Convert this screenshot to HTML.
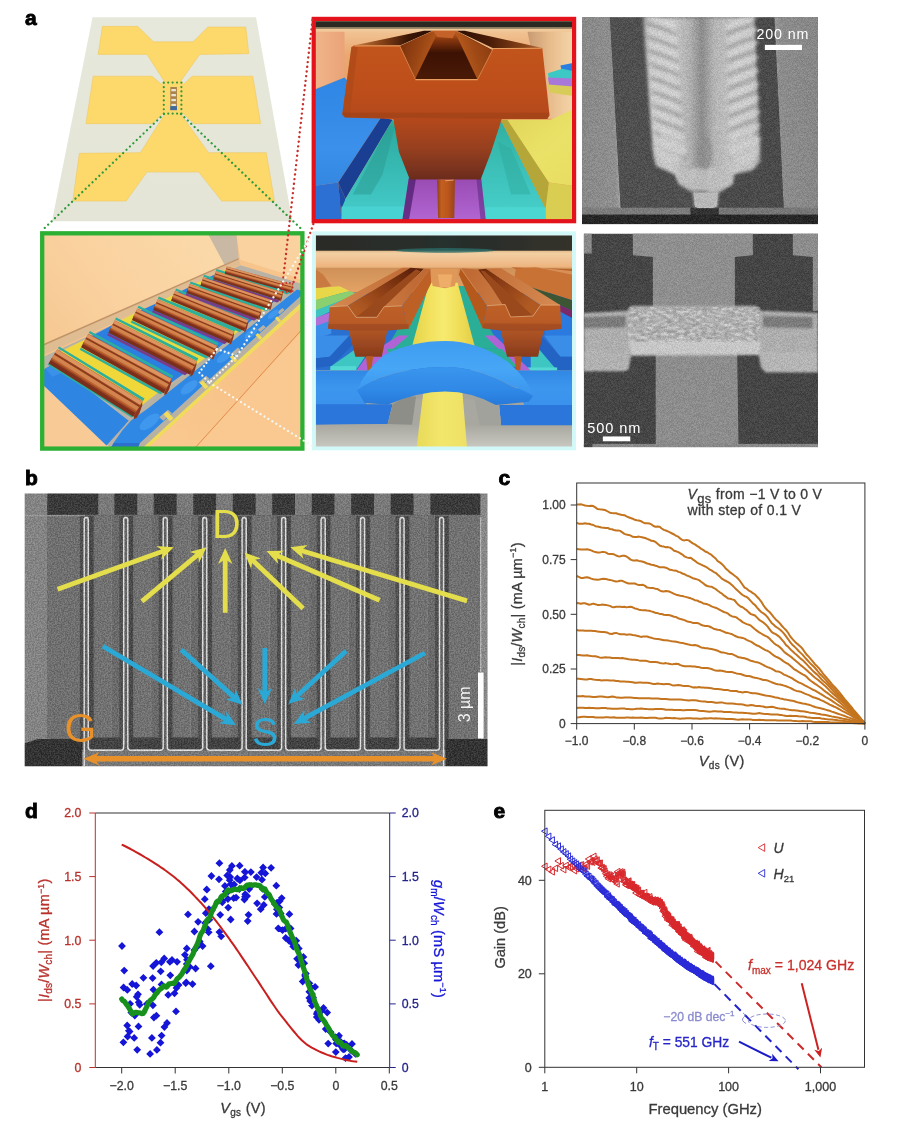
<!DOCTYPE html>
<html lang="en"><head><meta charset="utf-8"><title>Figure</title>
<style>
html,body{margin:0;padding:0;background:#fff;}
body{width:910px;height:1122px;position:relative;overflow:hidden;font-family:"Liberation Sans", sans-serif;}
text{font-family:"Liberation Sans", sans-serif;}
</style></head>
<body>
<svg width="910" height="1122" viewBox="0 0 910 1122" style="display:block;position:absolute;left:0;top:0">
<g id="panel-a">
<g id="chip" transform="translate(20,0) scale(0.32967)">
<defs><linearGradient id="chipg" x1="0" y1="0" x2="0" y2="1"><stop offset="0" stop-color="#e6e8db"/><stop offset="1" stop-color="#e4e5d6"/></linearGradient></defs>
<polygon points="220,52 716,52 826,671 97,671" fill="url(#chipg)" />
<polygon points="250,80 357,80 405,127 525,127 570,82 685,82 694,163 545,165 485,250 440,250 385,165 237,165" fill="#fdd86a" stroke="#eec458" stroke-width="1.5" stroke-linejoin="round"/>
<polygon points="222,231 400,231 437,262 437,340 402,375 200,375" fill="#fdd86a" stroke="#eec458" stroke-width="1.5" stroke-linejoin="round"/>
<polygon points="522,231 706,231 730,375 528,375 490,340 490,262" fill="#fdd86a" stroke="#eec458" stroke-width="1.5" stroke-linejoin="round"/>
<polygon points="440,345 487,345 572,463 747,463 772,610 612,610 542,522 385,522 322,610 160,610 180,465 365,463" fill="#fdd86a" stroke="#eec458" stroke-width="1.5" stroke-linejoin="round"/>
<rect x="432" y="248" width="62" height="100" fill="#fdd86a"/>
<rect x="456" y="264" width="20" height="70" fill="#a8824a"/>
<rect x="459" y="270" width="14" height="7" fill="#e8e4d4"/>
<rect x="459" y="285" width="14" height="7" fill="#e8e4d4"/>
<rect x="459" y="300" width="14" height="7" fill="#e8e4d4"/>
<rect x="459" y="315" width="14" height="7" fill="#e8e4d4"/>
<rect x="456" y="322" width="20" height="12" fill="#3f6a9c"/>
</g>
<g id="a-red" transform="translate(300,10) scale(0.32967)">
<defs>
<clipPath id="rclip"><rect x="46" y="34" width="783" height="606"/></clipPath>
<linearGradient id="r_wall" gradientUnits="userSpaceOnUse" x1="0" y1="55" x2="0" y2="330"><stop offset="0" stop-color="#f3cfa0"/><stop offset="0.06" stop-color="#f0c090"/><stop offset="0.3" stop-color="#eaa870"/><stop offset="1" stop-color="#e89a5c"/></linearGradient>
<linearGradient id="r_wallL" gradientUnits="userSpaceOnUse" x1="50" y1="0" x2="215" y2="0"><stop offset="0" stop-color="#f0b48a"/><stop offset="0.7" stop-color="#e89c70"/><stop offset="1" stop-color="#d07c50"/></linearGradient>
<linearGradient id="r_wallR" gradientUnits="userSpaceOnUse" x1="690" y1="0" x2="826" y2="0"><stop offset="0" stop-color="#c89a72"/><stop offset="0.5" stop-color="#e8bc8c"/><stop offset="1" stop-color="#f4d4a8"/></linearGradient>
<linearGradient id="r_cu" gradientUnits="userSpaceOnUse" x1="0" y1="105" x2="0" y2="520"><stop offset="0" stop-color="#c2541c"/><stop offset="0.35" stop-color="#bd4e1b"/><stop offset="0.55" stop-color="#b3481c"/><stop offset="0.75" stop-color="#98401f"/><stop offset="0.92" stop-color="#78321e"/><stop offset="1" stop-color="#682a1a"/></linearGradient>
<linearGradient id="r_cuL" gradientUnits="userSpaceOnUse" x1="125" y1="0" x2="300" y2="0"><stop offset="0" stop-color="#b85a1e"/><stop offset="0.3" stop-color="#c9681f"/><stop offset="1" stop-color="#c6641f"/></linearGradient>
<linearGradient id="r_topL" gradientUnits="userSpaceOnUse" x1="160" y1="0" x2="400" y2="0"><stop offset="0" stop-color="#c8804a"/><stop offset="0.35" stop-color="#8a4418"/><stop offset="0.7" stop-color="#3a1606"/><stop offset="1" stop-color="#2a0e04"/></linearGradient>
<linearGradient id="r_topR" gradientUnits="userSpaceOnUse" x1="470" y1="0" x2="735" y2="0"><stop offset="0" stop-color="#2a0e04"/><stop offset="0.4" stop-color="#4a1c08"/><stop offset="0.8" stop-color="#8a4418"/><stop offset="1" stop-color="#b86a38"/></linearGradient>
<linearGradient id="r_inL" gradientUnits="userSpaceOnUse" x1="300" y1="110" x2="420" y2="150"><stop offset="0" stop-color="#7a300c"/><stop offset="0.5" stop-color="#9a4614"/><stop offset="1" stop-color="#c06020"/></linearGradient>
<linearGradient id="r_inR" gradientUnits="userSpaceOnUse" x1="590" y1="110" x2="470" y2="150"><stop offset="0" stop-color="#8a3a10"/><stop offset="0.5" stop-color="#a04a16"/><stop offset="1" stop-color="#c46420"/></linearGradient>
<linearGradient id="r_inC" gradientUnits="userSpaceOnUse" x1="0" y1="62" x2="0" y2="212"><stop offset="0" stop-color="#c86a28"/><stop offset="0.18" stop-color="#8a380e"/><stop offset="0.45" stop-color="#3c1204"/><stop offset="1" stop-color="#4a1a06"/></linearGradient>
<linearGradient id="r_foot" gradientUnits="userSpaceOnUse" x1="415" y1="0" x2="471" y2="0"><stop offset="0" stop-color="#8a3c14"/><stop offset="0.25" stop-color="#c2601f"/><stop offset="0.6" stop-color="#bc561c"/><stop offset="1" stop-color="#96421a"/></linearGradient>
<linearGradient id="r_blue" gradientUnits="userSpaceOnUse" x1="0" y1="210" x2="0" y2="630"><stop offset="0" stop-color="#2f86e4"/><stop offset="0.5" stop-color="#3a90ea"/><stop offset="0.75" stop-color="#3488e2"/><stop offset="1" stop-color="#2a6cd0"/></linearGradient>
<linearGradient id="r_cyL" gradientUnits="userSpaceOnUse" x1="0" y1="340" x2="0" y2="630"><stop offset="0" stop-color="#2aa89c"/><stop offset="0.5" stop-color="#38bab4"/><stop offset="1" stop-color="#46cccc"/></linearGradient>
<linearGradient id="r_cyR" gradientUnits="userSpaceOnUse" x1="0" y1="340" x2="0" y2="630"><stop offset="0" stop-color="#30b0a0"/><stop offset="0.5" stop-color="#3cc0b8"/><stop offset="1" stop-color="#48d0cc"/></linearGradient>
<linearGradient id="r_yel" gradientUnits="userSpaceOnUse" x1="630" y1="330" x2="826" y2="560"><stop offset="0" stop-color="#e2d65c"/><stop offset="0.5" stop-color="#eae268"/><stop offset="1" stop-color="#e6dc60"/></linearGradient>
<linearGradient id="r_pur" gradientUnits="userSpaceOnUse" x1="0" y1="515" x2="0" y2="630"><stop offset="0" stop-color="#9a4cb4"/><stop offset="1" stop-color="#b064d0"/></linearGradient>
<filter id="rblur"><feGaussianBlur stdDeviation="1.2"/></filter>
</defs>
<g clip-path="url(#rclip)">
<rect x="44" y="32" width="787" height="610" fill="url(#r_wall)"/>
<rect x="44" y="32" width="787" height="21" fill="#2b2a22"/>
<rect x="44" y="52" width="787" height="5" fill="#8a7a5a"/>
<polygon points="44,66 135,66 135,205 44,240" fill="url(#r_wallL)" />
<polygon points="690,66 831,66 831,330 745,330" fill="url(#r_wallR)" />
<polygon points="790,168 831,160 831,195 795,190" fill="#2a7ee0" />
<polygon points="752,192 795,178 831,186 831,212 755,210" fill="#3cc8c4" />
<polygon points="752,205 831,208 831,236 756,230" fill="#a878d8" />
<polygon points="752,226 831,232 831,262 757,250" fill="#d8cc58" />
<polygon points="44,242 135,205 246,326 116,523 44,533" fill="url(#r_blue)" />
<polygon points="44,533 116,523 126,640 44,640" fill="#2b70d2" />
<polygon points="246,326 281,333 138,573 116,523" fill="#1a3f92" />
<polygon points="116,523 138,573 126,640" fill="#1c4aa4" />
<polygon points="281,333 296,368 336,503 331,583 312,640 126,640 126,603 138,573" fill="url(#r_cyL)" />
<polygon points="270,352 288,352 250,500 215,560 160,560" fill="#2c9c94" opacity="0.55"/>
<polygon points="126,596 330,596 312,640 126,640" fill="#48d2d2" />
<polygon points="330,510 552,510 566,640 310,640" fill="url(#r_pur)" />
<polygon points="330,510 352,510 330,640 310,640" fill="#4a1a6a" opacity="0.7"/>
<polygon points="535,510 552,510 566,640 548,640" fill="#5a2a80" opacity="0.55"/>
<polygon points="594,340 612,340 744,598 744,640 564,640 549,503" fill="url(#r_cyR)" />
<polygon points="600,400 640,420 700,560 640,560" fill="#2ea89c" opacity="0.45"/>
<polygon points="562,598 744,598 744,640 565,640" fill="#4cd6d2" />
<polygon points="609,333 630,333 755,523 745,603" fill="#b4a638" />
<polygon points="629,333 760,333 831,300 831,534 755,523" fill="url(#r_yel)" />
<polygon points="755,523 831,534 831,640 746,640 745,603" fill="#d9cd52" />
<polygon points="163,108 303,108 403,63 376,63" fill="url(#r_topL)" />
<polygon points="474,63 500,63 735,115 586,116" fill="url(#r_topR)" />
<polygon points="403,63 474,63 584,122 539,212 350,212 303,110" fill="url(#r_inC)" />
<polygon points="303,110 403,65 416,72 350,208" fill="url(#r_inL)" />
<polygon points="469,65 584,122 539,212" fill="url(#r_inR)" />
<polygon points="403,63 474,63 463,86 417,82" fill="#c4622a" />
<polygon points="156,112 165,107 303,108 350,210 539,210 586,116 735,115 757,320 750,331 612,331 580,430 548,514 333,514 300,430 283,331 136,326 128,318" fill="url(#r_cu)" />
<polygon points="156,112 175,112 150,322 128,318" fill="#a84818" opacity="0.6"/>
<polygon points="128,312 757,312 750,331 136,326" fill="#8a3c14" opacity="0.35"/>
<path d="M165 109 L303 109" stroke="#f2b070" stroke-width="3" fill="none" opacity="0.8"/>
<path d="M586 117 L733 116" stroke="#f2b070" stroke-width="3" fill="none" opacity="0.8"/>
<path d="M350 211 L539 211" stroke="#f0a868" stroke-width="3.5" fill="none" opacity="0.9"/>
<path d="M303 110 L350 210" stroke="#e89a58" stroke-width="2.5" fill="none" opacity="0.8"/>
<path d="M586 117 L539 210" stroke="#e89a58" stroke-width="2.5" fill="none" opacity="0.8"/>
<polygon points="416,514 470,514 468,631 419,631" fill="url(#r_foot)" />
<path d="M440 518 L466 516" stroke="#f0b070" stroke-width="3" opacity="0.8"/>
</g>
</g>
<g id="a-green" transform="translate(30,220) scale(0.318674)">
<defs>
<clipPath id="gclip"><rect x="44" y="46" width="808" height="668"/></clipPath>
<linearGradient id="g_plat" gradientUnits="userSpaceOnUse" x1="45" y1="390" x2="500" y2="47"><stop offset="0" stop-color="#f6c892"/><stop offset="0.5" stop-color="#fad2a0"/><stop offset="1" stop-color="#fbd8a8"/></linearGradient>
<linearGradient id="g_out" gradientUnits="userSpaceOnUse" x1="500" y1="712" x2="850" y2="330"><stop offset="0" stop-color="#f9c88e"/><stop offset="1" stop-color="#f6bd84"/></linearGradient>
<filter id="gblur"><feGaussianBlur stdDeviation="1.6"/></filter>
</defs>
<g clip-path="url(#gclip)"><g filter="url(#gblur)">
<rect x="40" y="40" width="820" height="680" fill="#f7c48c"/>
<polygon points="44,500 250,714 44,714" fill="#f8cb96" />
<polygon points="44,46 645,46 655,122 44,392" fill="url(#g_plat)" />
<polygon points="560,46 648,46 655,120 610,140" fill="#c8b8a4" />
<polygon points="648,46 852,46 852,190 820,175 660,125" fill="#fad2a0" />
<polygon points="44,392 655,122 660,140 44,424" fill="#e0bc92" />
<polygon points="44,388 655,119 655,124 44,394" fill="#c09468" />
<polygon points="44,428 660,142 852,200 852,260 370,712 250,712 44,520" fill="#b9b2a6" />
<polygon points="48,466 78,450 310,630 240,708 44,520 44,470" fill="#2f86e2" />
<polygon points="48,466 78,450 110,475 70,492" fill="#3a90ea" />
<polygon points="75,423 342,588 435,516 174,374" fill="#f0d83a" />
<polygon points="91.3,396.6 359.3,559.9 354.6,567.6 87.6,402.6" fill="#2fae9c" />
<polygon points="159.2,401.2 420.2,543.2 415.9,551.1 155.8,407.4" fill="#2fae9c" />
<polygon points="174,374 435,516 515,460 258,330" fill="#2c7fe0" />
<polygon points="187.9,348.5 449.8,488.8 445.5,496.7 184.5,354.7" fill="#2fae9c" />
<polygon points="245.3,355.2 502.3,485.2 498.2,493.2 242.1,361.4" fill="#7a3a8a" />
<polygon points="258,330 515,460 580,410 330,292" fill="#e8dc40" />
<polygon points="270.2,305.9 528.1,434.1 524,442.2 267,312.2" fill="#2fae9c" />
<polygon points="319.2,315 569.2,433 565.3,441.1 316.2,321.3" fill="#2fae9c" />
<polygon points="330,292 580,410 635,365 395,262" fill="#2c7fe0" />
<polygon points="340.7,269.4 591.5,385.6 587.7,393.7 337.7,275.7" fill="#2fae9c" />
<polygon points="385.8,283.4 625.8,386.4 622.3,394.7 383.1,289.8" fill="#7a3a8a" />
<polygon points="395,262 635,365 680,328 450,235" fill="#e8dc40" />
<polygon points="404.3,240.4 645.1,341.6 641.5,349.8 401.5,246.8" fill="#2fae9c" />
<polygon points="442.1,254.7 672.1,347.7 668.7,356 439.4,261.1" fill="#2fae9c" />
<polygon points="450,235 680,328 722,293 497,212" fill="#2c7fe0" />
<polygon points="458.2,214.6 689,305.8 685.6,314.1 455.6,221.1" fill="#2fae9c" />
<polygon points="490.5,230 715.5,311 712.5,319.4 488.2,236.6" fill="#7a3a8a" />
<polygon points="497,212 722,293 757,263 540,190" fill="#e8dc40" />
<polygon points="503.9,192.7 729.6,271.8 726.6,280.3 501.6,199.3" fill="#2fae9c" />
<polygon points="534.4,206.8 751.4,279.8 748.5,288.3 532.1,213.4" fill="#2fae9c" />
<polygon points="540,190 757,263 790,237 580,171" fill="#2c7fe0" />
<polygon points="546.2,171.5 763.9,242.6 761,251.2 544,178.2" fill="#2fae9c" />
<polygon points="575.1,186.6 785.1,252.6 782.4,261.1 573,193.2" fill="#7a3a8a" />
<polygon points="580,171 790,237 822,213 615,155" fill="#e8dc40" />
<polygon points="585.5,153.4 796.1,217.4 793.4,226 583.4,160" fill="#2fae9c" />
<polygon points="611,169.3 818,227.3 815.6,236 609.1,176.1" fill="#2fae9c" />
<polygon points="60,447.2 326.5,613.1 321.2,621.6 55.8,454" fill="#2fae9c" />
<polygon points="300,640 330,610 836,212 852,216 852,250 362,712 300,712" fill="#b7b1a4" />
<polygon points="318,628 372,590 838,218 852,222 852,236 345,700 262,700 290,660" fill="#2f88e4" />
<polygon points="262,700 345,700 340,712 255,712" fill="#2a70cc" />
<polygon points="405.4,618.9 432.8,595.2 445.5,606.1 418.2,629.8" fill="#b7b1a4" />
<polygon points="529,509.2 552.4,488.9 563.4,498.3 540,518.6" fill="#b7b1a4" />
<polygon points="632.1,417.8 652.2,400.4 661.5,408.4 641.4,425.8" fill="#b7b1a4" />
<polygon points="714.5,344.7 731.9,329.5 740.1,336.5 722.6,351.7" fill="#b7b1a4" />
<polygon points="776.3,289.8 791.8,276.4 799,282.6 783.5,296" fill="#b7b1a4" />
<ellipse cx="374.9" cy="633.4" rx="37" ry="16.5" transform="rotate(-38 374.9 633.4)" fill="#3f98ee"/>
<ellipse cx="499.4" cy="525.1" rx="31.7" ry="14.2" transform="rotate(-38 499.4 525.1)" fill="#3f98ee"/>
<ellipse cx="609" cy="429.8" rx="27.1" ry="12.1" transform="rotate(-38 609 429.8)" fill="#3f98ee"/>
<ellipse cx="693.6" cy="356.2" rx="23.6" ry="10.5" transform="rotate(-38 693.6 356.2)" fill="#3f98ee"/>
<ellipse cx="763.3" cy="295.6" rx="20.7" ry="9.2" transform="rotate(-38 763.3 295.6)" fill="#3f98ee"/>
<polygon points="355,714 372,714 852,275 852,258" fill="#f0dc5a" />
<polygon points="418.8,609.2 430,599.8 450.7,622.3 439.4,631.7" fill="#f0dc5a" />
<polygon points="532.3,511.5 542.1,503.3 560.2,523 550.3,531.2" fill="#f0dc5a" />
<polygon points="626.9,430.1 635.5,422.9 651.4,440.2 642.7,447.4" fill="#f0dc5a" />
<polygon points="707.3,360.9 714.9,354.5 728.9,369.8 721.3,376.1" fill="#f0dc5a" />
<polygon points="768.8,308 775.6,302.3 788.2,316 781.3,321.7" fill="#f0dc5a" />
<polygon points="372,714 852,275 852,714" fill="url(#g_out)" />
<path d="M519 714 L852 345" stroke="#e08a48" stroke-width="3" fill="none"/>
<polygon points="523,714 852,349 852,714" fill="#f9c991" />
<polygon points="70.2,430.8 336.8,596.3 324,617.2 58.2,450.1" fill="#7a2e1a" />
<polygon points="68.3,433.9 334.8,599.7 330.7,606.3 64.5,440.1" fill="#9a4424" />
<polygon points="86,405.2 353.8,568.8 333.2,602.2 66.9,436.2" fill="#bc622f" />
<polygon points="85.3,406.3 353.1,570.1 346.4,580.9 79.1,416.4" fill="#dc9460" />
<polygon points="78.4,417.6 345.6,582.2 342.5,587.2 75.5,422.2" fill="#8a3a1c" />
<polygon points="75.2,422.6 342.3,587.6 336.1,597.6 69.5,431.9" fill="#d28450" />
<polygon points="352.3,571.3 326,613.8 326,625.2 335.6,619 343.3,606.5 352.3,581.6" fill="#8a341c" />
<polygon points="170,381.4 430.7,523.9 419.9,543.7 160,399.7" fill="#7a2e1a" />
<polygon points="168.4,384.3 429,527.1 425.5,533.4 165.2,390.2" fill="#9a4424" />
<polygon points="183.2,357.1 444.9,497.8 427.7,529.4 167.2,386.5" fill="#bc622f" />
<polygon points="182.6,358.2 444.2,499 438.7,509.3 177.4,367.8" fill="#dc9460" />
<polygon points="176.8,368.9 438,510.5 435.4,515.2 174.4,373.3" fill="#8a3a1c" />
<polygon points="174.2,373.6 435.2,515.6 430.1,525.1 169.4,382.5" fill="#d28450" />
<polygon points="443.6,500.2 421.7,540.5 421.7,550.9 429.6,544.8 436.1,532.9 443.6,509.6" fill="#8a341c" />
<polygon points="254.6,336.8 511.3,467.3 502,485.6 246,353.8" fill="#7a2e1a" />
<polygon points="253.2,339.5 509.8,470.2 506.9,476.1 250.4,345" fill="#9a4424" />
<polygon points="265.9,314.3 523.5,443.2 508.7,472.4 252.1,341.6" fill="#bc622f" />
<polygon points="265.4,315.4 523,444.3 518.1,453.8 260.9,324.2" fill="#dc9460" />
<polygon points="260.4,325.2 517.6,454.9 515.4,459.3 258.3,329.3" fill="#8a3a1c" />
<polygon points="258.2,329.7 515.2,459.6 510.7,468.4 254,337.8" fill="#d28450" />
<polygon points="522.4,445.4 503.5,482.7 503.5,492.2 510.4,486.4 515.9,475.4 522.4,454" fill="#8a341c" />
<polygon points="327.1,298.2 576.8,416.7 568.9,433.4 319.7,313.8" fill="#7a2e1a" />
<polygon points="325.9,300.7 575.6,419.4 573.1,424.7 323.5,305.7" fill="#9a4424" />
<polygon points="336.8,277.7 587.3,394.6 574.6,421.4 325,302.6" fill="#bc622f" />
<polygon points="336.3,278.6 586.8,395.6 582.7,404.3 332.5,286.7" fill="#dc9460" />
<polygon points="332.1,287.6 582.2,405.3 580.3,409.3 330.3,291.4" fill="#8a3a1c" />
<polygon points="330.1,291.7 580.2,409.7 576.4,417.7 326.6,299.2" fill="#d28450" />
<polygon points="586.3,396.6 570.2,430.7 570.2,439.3 576.1,433.9 580.8,423.9 586.3,404.4" fill="#8a341c" />
<polygon points="392.5,267.8 632.3,371.2 625.6,386.9 386.3,282.3" fill="#7a2e1a" />
<polygon points="391.5,270.1 631.2,373.7 629.1,378.7 389.5,274.8" fill="#9a4424" />
<polygon points="400.7,248.6 641.2,350.6 630.4,375.6 390.8,271.9" fill="#bc622f" />
<polygon points="400.4,249.5 640.8,351.6 637.3,359.7 397.1,257.1" fill="#dc9460" />
<polygon points="396.7,257.9 636.9,360.6 635.3,364.4 395.2,261.4" fill="#8a3a1c" />
<polygon points="395.1,261.7 635.1,364.7 631.9,372.2 392.1,268.7" fill="#d28450" />
<polygon points="640.4,352.5 626.7,384.4 626.7,392.2 631.6,387.1 635.7,377.7 640.4,359.6" fill="#8a341c" />
<polygon points="447.8,240.3 677.7,333.7 671.9,348.1 442.4,253.7" fill="#7a2e1a" />
<polygon points="447,242.5 676.7,336 674.9,340.6 445.2,246.8" fill="#9a4424" />
<polygon points="455,222.7 685.3,314.8 676,337.8 446.3,244.1" fill="#bc622f" />
<polygon points="454.6,223.5 685,315.6 682,323.1 451.8,230.5" fill="#dc9460" />
<polygon points="451.5,231.3 681.6,324 680.2,327.4 450.2,234.5" fill="#8a3a1c" />
<polygon points="450.1,234.7 680.1,327.7 677.3,334.6 447.5,241.1" fill="#d28450" />
<polygon points="684.6,316.5 672.8,345.8 672.8,353 677.1,348.2 680.6,339.6 684.6,323" fill="#8a341c" />
<polygon points="495.2,216.9 720.1,298.3 715.4,311.4 490.8,229.2" fill="#7a2e1a" />
<polygon points="494.5,218.9 719.3,300.4 717.8,304.6 493.1,222.8" fill="#9a4424" />
<polygon points="501.1,200.7 726.4,280.9 718.8,302 494,220.3" fill="#bc622f" />
<polygon points="500.8,201.5 726.1,281.7 723.6,288.5 498.5,207.8" fill="#dc9460" />
<polygon points="498.2,208.6 723.3,289.3 722.2,292.5 497.2,211.5" fill="#8a3a1c" />
<polygon points="497.1,211.8 722.1,292.7 719.8,299.1 495,217.6" fill="#d28450" />
<polygon points="725.8,282.5 716.1,309.3 716.1,315.8 719.6,311.3 722.5,303.4 725.8,288.3" fill="#8a341c" />
<polygon points="538.5,194.6 755.3,267.9 751.2,280.3 534.6,206" fill="#7a2e1a" />
<polygon points="537.8,196.4 754.7,269.9 753.4,273.8 536.6,200.1" fill="#9a4424" />
<polygon points="543.5,179.5 760.8,251.7 754.2,271.4 537.4,197.8" fill="#bc622f" />
<polygon points="543.3,180.1 760.6,252.4 758.4,258.8 541.3,186.1" fill="#dc9460" />
<polygon points="541.1,186.8 758.2,259.5 757.2,262.5 540.2,189.5" fill="#8a3a1c" />
<polygon points="540.1,189.8 757.1,262.8 755.1,268.7 538.2,195.3" fill="#d28450" />
<polygon points="760.3,253.1 751.9,278.3 751.9,284.3 754.9,280.1 757.4,272.7 760.3,258.6" fill="#8a341c" />
<polygon points="578.7,175.3 788.6,241.6 785,253 575.3,185.9" fill="#7a2e1a" />
<polygon points="578.1,177 788,243.4 786.8,247.1 577.1,180.4" fill="#9a4424" />
<polygon points="583.1,161.2 793.3,226.5 787.6,244.8 577.7,178.2" fill="#bc622f" />
<polygon points="582.9,161.8 793.1,227.2 791.2,233.1 581.1,167.4" fill="#dc9460" />
<polygon points="580.9,168 791,233.8 790.1,236.5 580.1,170.6" fill="#8a3a1c" />
<polygon points="580.1,170.8 790.1,236.8 788.3,242.3 578.5,175.9" fill="#d28450" />
<polygon points="792.9,227.8 785.5,251.2 785.5,256.7 788.2,252.8 790.4,245.9 792.9,232.9" fill="#8a341c" />
<polygon points="613.9,158.9 820.8,217.2 817.8,227.8 611.1,168.8" fill="#7a2e1a" />
<polygon points="613.5,160.5 820.3,218.9 819.4,222.3 612.6,163.7" fill="#9a4424" />
<polygon points="617.5,145.9 824.7,203.3 820,220.2 613.1,161.7" fill="#bc622f" />
<polygon points="617.4,146.5 824.6,203.9 823,209.4 615.9,151.7" fill="#dc9460" />
<polygon points="615.8,152.2 822.8,210 822.1,212.6 615.1,154.6" fill="#8a3a1c" />
<polygon points="615.1,154.8 822.1,212.8 820.6,217.9 613.7,159.5" fill="#d28450" />
<polygon points="824.4,204.5 818.3,226.1 818.3,231.2 820.5,227.5 822.3,221.2 824.4,209.1" fill="#8a341c" />
</g></g>
</g>
<g id="a-cyan" transform="translate(300,225) scale(0.32967)">
<defs>
<clipPath id="cclip"><rect x="46.5" y="31" width="781" height="645"/></clipPath>
<linearGradient id="c_dark" gradientUnits="userSpaceOnUse" x1="48" y1="0" x2="826" y2="0"><stop offset="0" stop-color="#2a2b27"/><stop offset="0.35" stop-color="#2c2e2a"/><stop offset="0.5" stop-color="#25302e"/><stop offset="0.7" stop-color="#2c2d29"/><stop offset="1" stop-color="#34332c"/></linearGradient>
<linearGradient id="c_cream" gradientUnits="userSpaceOnUse" x1="0" y1="78" x2="0" y2="130"><stop offset="0" stop-color="#e0b888"/><stop offset="0.15" stop-color="#f2cfa2"/><stop offset="0.6" stop-color="#f0c090"/><stop offset="0.92" stop-color="#eeb47e"/><stop offset="1" stop-color="#f6cfa0"/></linearGradient>
<linearGradient id="c_wall" gradientUnits="userSpaceOnUse" x1="0" y1="128" x2="0" y2="200"><stop offset="0" stop-color="#cf9058"/><stop offset="1" stop-color="#e2a264"/></linearGradient>
<linearGradient id="c_cu" gradientUnits="userSpaceOnUse" x1="0" y1="240" x2="0" y2="400"><stop offset="0" stop-color="#be6028"/><stop offset="0.35" stop-color="#b85a26"/><stop offset="0.6" stop-color="#a85024"/><stop offset="1" stop-color="#863a1c"/></linearGradient>
<linearGradient id="c_cutopL" gradientUnits="userSpaceOnUse" x1="330" y1="130" x2="100" y2="250"><stop offset="0" stop-color="#c06a34"/><stop offset="1" stop-color="#d48850"/></linearGradient>
<linearGradient id="c_cutopR" gradientUnits="userSpaceOnUse" x1="520" y1="130" x2="760" y2="250"><stop offset="0" stop-color="#c06a34"/><stop offset="1" stop-color="#d48850"/></linearGradient>
<linearGradient id="c_grvL" gradientUnits="userSpaceOnUse" x1="340" y1="130" x2="200" y2="280"><stop offset="0" stop-color="#5a2008"/><stop offset="0.5" stop-color="#8a3c14"/><stop offset="1" stop-color="#b05a24"/></linearGradient>
<linearGradient id="c_grvR" gradientUnits="userSpaceOnUse" x1="500" y1="130" x2="660" y2="280"><stop offset="0" stop-color="#5a2008"/><stop offset="0.5" stop-color="#8a3c14"/><stop offset="1" stop-color="#b05a24"/></linearGradient>
<linearGradient id="c_yel" gradientUnits="userSpaceOnUse" x1="340" y1="0" x2="530" y2="0"><stop offset="0" stop-color="#e4d24a"/><stop offset="0.3" stop-color="#f2e25e"/><stop offset="0.5" stop-color="#f6ea70"/><stop offset="0.75" stop-color="#f0de58"/><stop offset="1" stop-color="#e2ce48"/></linearGradient>
<linearGradient id="c_yel2" gradientUnits="userSpaceOnUse" x1="350" y1="0" x2="510" y2="0"><stop offset="0" stop-color="#e8da58"/><stop offset="0.5" stop-color="#f2e66c"/><stop offset="1" stop-color="#eee064"/></linearGradient>
<linearGradient id="c_archtop" gradientUnits="userSpaceOnUse" x1="0" y1="350" x2="0" y2="520"><stop offset="0" stop-color="#3f9cf0"/><stop offset="0.5" stop-color="#47a6f6"/><stop offset="1" stop-color="#3a94ec"/></linearGradient>
<linearGradient id="c_archfr" gradientUnits="userSpaceOnUse" x1="0" y1="430" x2="0" y2="550"><stop offset="0" stop-color="#3a96ee"/><stop offset="0.6" stop-color="#2f88e6"/><stop offset="1" stop-color="#2878d8"/></linearGradient>
<linearGradient id="c_slabtop" gradientUnits="userSpaceOnUse" x1="0" y1="440" x2="0" y2="546"><stop offset="0" stop-color="#3088e4"/><stop offset="0.5" stop-color="#3c96ee"/><stop offset="1" stop-color="#3a92ec"/></linearGradient>
<linearGradient id="c_floor" gradientUnits="userSpaceOnUse" x1="0" y1="606" x2="0" y2="670"><stop offset="0" stop-color="#a8a8a0"/><stop offset="1" stop-color="#c6c6be"/></linearGradient>
<filter id="cblur"><feGaussianBlur stdDeviation="1.1"/></filter>
</defs>
<g clip-path="url(#cclip)"><g filter="url(#cblur)">
<rect x="40" y="25" width="795" height="655" fill="#e4a46a"/>
<rect x="40" y="25" width="795" height="54" fill="url(#c_dark)"/>
<rect x="40" y="78" width="795" height="52" fill="url(#c_cream)"/>
<ellipse cx="440" cy="77" rx="150" ry="7" fill="#2a6a68" opacity="0.8"/>
<rect x="40" y="129" width="795" height="80" fill="url(#c_wall)"/>
<rect x="40" y="205" width="795" height="240" fill="#2a6fd0"/>
<rect x="40" y="440" width="795" height="240" fill="#a4a49c"/>
<polygon points="44,132 70,150 95,185 44,195" fill="#c87a40" />
<polygon points="44,192 120,186 150,200 44,230" fill="#e8d848" />
<polygon points="44,228 150,200 175,210 44,262" fill="#8ad070" />
<polygon points="44,260 175,210 185,218 44,285" fill="#3cc4c0" />
<polygon points="44,283 100,262 100,290 44,312" fill="#b070d8" />
<polygon points="44,308 95,290 95,330 44,345" fill="#3a90ea" />
<polygon points="372,185 402,185 345,375 262,375" fill="#2cae98" />
<polygon points="470,185 500,185 612,375 525,375" fill="#2cae98" />
<polygon points="392,175 478,175 532,375 338,375" fill="url(#c_yel)" />
<polygon points="396,132 480,132 470,185 440,192 402,185" fill="#e09858" />
<polygon points="418,150 462,150 456,188 424,188" fill="#eeae6a" />
<polygon points="44,335 150,335 90,400 44,405" fill="#3a8ee8" />
<polygon points="150,335 160,364 95,428 44,434 44,405 90,400" fill="#2263c4" />
<polygon points="95,428 185,365 200,395 170,440 92,440" fill="#3cc6c2" />
<polygon points="92,428 170,428 170,441 92,441" fill="#52d8d4" />
<polygon points="172,440 205,395 300,335 330,335 205,441" fill="#b064d4" />
<polygon points="262,375 345,375 335,395 290,420" fill="#2cae98" />
<polygon points="830,330 740,335 790,400 830,400" fill="#3a8ee8" />
<polygon points="735,340 790,400 830,400 830,441 760,441 712,372" fill="#2263c4" />
<polygon points="700,372 715,365 780,441 700,441" fill="#3cc6c2" />
<polygon points="690,432 780,432 780,441 690,441" fill="#52d8d4" />
<polygon points="560,335 590,335 700,441 668,441" fill="#b064d4" />
<polygon points="525,375 612,375 660,432 600,420" fill="#2cae98" />
<polygon points="640,128 830,134 830,160 700,150" fill="#b8642c" />
<polygon points="655,132 715,128 830,150 830,230 690,185 650,160" fill="#c87236" />
<polygon points="715,128 830,140 830,152" fill="#d89058" />
<polygon points="690,185 830,230 830,262 700,205" fill="#3a5434" />
<polygon points="700,205 830,262 830,285 720,225" fill="#7a2a6a" />
<polygon points="720,225 830,285 830,335 745,335 735,250" fill="#2c7ae0" />
<polygon points="310,245 395,133 398,176 330,315" fill="#bc6028" />
<polygon points="90,248 145,245 335,130 310,130" fill="url(#c_cutopL)" />
<polygon points="145,245 170,280 233,280 255,248 376,133 335,130" fill="url(#c_grvL)" />
<polygon points="170,280 233,280 365,140 352,134" fill="#9a4a1c" />
<polygon points="255,248 310,245 395,133 376,133" fill="url(#c_cutopL)" />
<polygon points="90,248 145,245 170,280 233,280 255,248 310,245 330,315 265,320 248,400 168,400 148,320 85,315" fill="url(#c_cu)" />
<path d="M90 248 L145 245 L170 280 L233 280 L255 248 L310 245" stroke="#eeb078" stroke-width="2.5" fill="none" opacity="0.85"/>
<polygon points="85,300 330,300 330,315 265,320 148,320 85,315" fill="#8a3c18" opacity="0.35"/>
<polygon points="200,398 222,398 216,441 205,441" fill="#b85a22" />
<polygon points="567,245 487,133 482,150 554,313" fill="#b4581f" />
<polygon points="567,245 622,241 540,135 489,131" fill="url(#c_cutopR)" />
<polygon points="622,241 639,279 707,276 730,243 565,133 540,135" fill="url(#c_grvR)" />
<polygon points="639,279 707,276 560,140 548,138" fill="#9a4a1c" />
<polygon points="730,243 789,243 610,131 565,133" fill="url(#c_cutopR)" />
<polygon points="567,245 622,241 639,279 707,276 730,243 789,243 793,315 739,321 722,400 628,400 609,320 554,313" fill="url(#c_cu)" />
<path d="M567 245 L622 241 L639 279 L707 276 L730 243 L789 243" stroke="#eeb078" stroke-width="2.5" fill="none" opacity="0.85"/>
<polygon points="554,298 793,300 793,315 739,321 609,320 554,313" fill="#8a3c18" opacity="0.35"/>
<polygon points="650,398 672,398 668,441 656,441" fill="#b85a22" />
<polygon points="44,441 230,441 200,546 44,546" fill="url(#c_slabtop)" />
<polygon points="640,441 830,441 830,546 680,546" fill="url(#c_slabtop)" />
<polygon points="44,544 281,544 266,604 44,607" fill="#2a76da" />
<polygon points="604,546 830,546 830,608 610,608" fill="#2a76da" />
<polygon points="44,606 266,604 281,544 310,527 600,530 604,546 610,608 830,608 830,680 44,680" fill="url(#c_floor)" />
<polygon points="266,604 281,544 320,520 352,520 340,606" fill="#8e8e88" />
<polygon points="610,608 604,546 560,520 528,520 545,608" fill="#a2a29c" />
<polygon points="375,500 492,500 507,680 353,680" fill="url(#c_yel2)" />
<path d="M173 501 Q195 445 255 394 Q340 352 440 352 Q540 352 630 415 Q690 465 707 519 Q690 500 640 488 Q540 432 440 431 Q330 432 240 464 Q195 485 173 501Z" fill="url(#c_archtop)"/>
<path d="M173 501 Q195 485 240 464 Q330 432 440 431 Q540 432 640 488 Q690 505 707 519 L694 536 L594 546 Q520 505 440 505 Q360 505 265 545 L195 539Z" fill="url(#c_archfr)"/>
</g></g>
</g>
<g id="sem1" transform="translate(570,10) scale(0.285714)">
<defs><clipPath id="s1clip"><rect x="42" y="25" width="826" height="725"/></clipPath>
<linearGradient id="s1ridge" x1="0" y1="0" x2="1" y2="0"><stop offset="0" stop-color="#9a9a9a"/><stop offset="0.06" stop-color="#c6c6c6"/><stop offset="0.25" stop-color="#cfcfcf"/><stop offset="0.40" stop-color="#b4b4b4"/><stop offset="0.5" stop-color="#8c8c8c"/><stop offset="0.60" stop-color="#b8b8b8"/><stop offset="0.8" stop-color="#cdcdcd"/><stop offset="0.95" stop-color="#c2c2c2"/><stop offset="1" stop-color="#8c8c8c"/></linearGradient>
<linearGradient id="s1left" x1="0" y1="0" x2="1" y2="0"><stop offset="0" stop-color="#8a8a8a"/><stop offset="0.85" stop-color="#909090"/><stop offset="1" stop-color="#a4a4a4"/></linearGradient>
<linearGradient id="s1right" x1="0" y1="0" x2="1" y2="0"><stop offset="0" stop-color="#a2a2a2"/><stop offset="0.12" stop-color="#8e8e8e"/><stop offset="1" stop-color="#888"/></linearGradient>
<filter id="s1blur"><feGaussianBlur stdDeviation="5"/></filter>
</defs>
<g clip-path="url(#s1clip)">
<rect x="42" y="25" width="826" height="725" fill="#484848"/>
<polygon points="42,25 140,25 178,700 42,700" fill="url(#s1left)" />
<polygon points="715,25 868,25 868,715 748,700" fill="url(#s1right)" />
<polygon points="140,25 262,25 300,520 420,660 420,700 178,700" fill="#4b4b4b" />
<polygon points="645,25 715,25 748,700 520,700 520,660 668,520" fill="#464646" />
<g filter="url(#s1blur)">
<polygon points="255,25 645,25 668,530 640,560 575,575 570,610 520,640 515,690 435,690 430,640 380,610 365,575 300,545 290,500" fill="url(#s1ridge)" />
<ellipse cx="318" cy="40" rx="62" ry="15" transform="rotate(22 318 40)" fill="#e4e4e4" opacity="0.5"/>
<ellipse cx="322" cy="64" rx="58" ry="10" transform="rotate(22 318 64)" fill="#808080" opacity="0.38"/>
<ellipse cx="600" cy="40" rx="62" ry="15" transform="rotate(-22 600 40)" fill="#e4e4e4" opacity="0.5"/>
<ellipse cx="596" cy="64" rx="58" ry="10" transform="rotate(-22 600 64)" fill="#808080" opacity="0.38"/>
<ellipse cx="321.5" cy="88" rx="62" ry="15" transform="rotate(22 321.5 88)" fill="#e4e4e4" opacity="0.5"/>
<ellipse cx="325.5" cy="112" rx="58" ry="10" transform="rotate(22 321.5 112)" fill="#808080" opacity="0.38"/>
<ellipse cx="601.4" cy="88" rx="62" ry="15" transform="rotate(-22 601.4 88)" fill="#e4e4e4" opacity="0.5"/>
<ellipse cx="597.4" cy="112" rx="58" ry="10" transform="rotate(-22 601.4 112)" fill="#808080" opacity="0.38"/>
<ellipse cx="325" cy="136" rx="62" ry="15" transform="rotate(22 325 136)" fill="#e4e4e4" opacity="0.5"/>
<ellipse cx="329" cy="160" rx="58" ry="10" transform="rotate(22 325 160)" fill="#808080" opacity="0.38"/>
<ellipse cx="602.8" cy="136" rx="62" ry="15" transform="rotate(-22 602.8 136)" fill="#e4e4e4" opacity="0.5"/>
<ellipse cx="598.8" cy="160" rx="58" ry="10" transform="rotate(-22 602.8 160)" fill="#808080" opacity="0.38"/>
<ellipse cx="328.5" cy="184" rx="62" ry="15" transform="rotate(22 328.5 184)" fill="#e4e4e4" opacity="0.5"/>
<ellipse cx="332.5" cy="208" rx="58" ry="10" transform="rotate(22 328.5 208)" fill="#808080" opacity="0.38"/>
<ellipse cx="604.2" cy="184" rx="62" ry="15" transform="rotate(-22 604.2 184)" fill="#e4e4e4" opacity="0.5"/>
<ellipse cx="600.2" cy="208" rx="58" ry="10" transform="rotate(-22 604.2 208)" fill="#808080" opacity="0.38"/>
<ellipse cx="332" cy="232" rx="62" ry="15" transform="rotate(22 332 232)" fill="#e4e4e4" opacity="0.5"/>
<ellipse cx="336" cy="256" rx="58" ry="10" transform="rotate(22 332 256)" fill="#808080" opacity="0.38"/>
<ellipse cx="605.6" cy="232" rx="62" ry="15" transform="rotate(-22 605.6 232)" fill="#e4e4e4" opacity="0.5"/>
<ellipse cx="601.6" cy="256" rx="58" ry="10" transform="rotate(-22 605.6 256)" fill="#808080" opacity="0.38"/>
<ellipse cx="335.5" cy="280" rx="62" ry="15" transform="rotate(22 335.5 280)" fill="#e4e4e4" opacity="0.5"/>
<ellipse cx="339.5" cy="304" rx="58" ry="10" transform="rotate(22 335.5 304)" fill="#808080" opacity="0.38"/>
<ellipse cx="607" cy="280" rx="62" ry="15" transform="rotate(-22 607 280)" fill="#e4e4e4" opacity="0.5"/>
<ellipse cx="603" cy="304" rx="58" ry="10" transform="rotate(-22 607 304)" fill="#808080" opacity="0.38"/>
<ellipse cx="339" cy="328" rx="62" ry="15" transform="rotate(22 339 328)" fill="#e4e4e4" opacity="0.5"/>
<ellipse cx="343" cy="352" rx="58" ry="10" transform="rotate(22 339 352)" fill="#808080" opacity="0.38"/>
<ellipse cx="608.4" cy="328" rx="62" ry="15" transform="rotate(-22 608.4 328)" fill="#e4e4e4" opacity="0.5"/>
<ellipse cx="604.4" cy="352" rx="58" ry="10" transform="rotate(-22 608.4 352)" fill="#808080" opacity="0.38"/>
<ellipse cx="342.5" cy="376" rx="62" ry="15" transform="rotate(22 342.5 376)" fill="#e4e4e4" opacity="0.5"/>
<ellipse cx="346.5" cy="400" rx="58" ry="10" transform="rotate(22 342.5 400)" fill="#808080" opacity="0.38"/>
<ellipse cx="609.8" cy="376" rx="62" ry="15" transform="rotate(-22 609.8 376)" fill="#e4e4e4" opacity="0.5"/>
<ellipse cx="605.8" cy="400" rx="58" ry="10" transform="rotate(-22 609.8 400)" fill="#808080" opacity="0.38"/>
<ellipse cx="346" cy="424" rx="62" ry="15" transform="rotate(22 346 424)" fill="#e4e4e4" opacity="0.5"/>
<ellipse cx="350" cy="448" rx="58" ry="10" transform="rotate(22 346 448)" fill="#808080" opacity="0.38"/>
<ellipse cx="611.2" cy="424" rx="62" ry="15" transform="rotate(-22 611.2 424)" fill="#e4e4e4" opacity="0.5"/>
<ellipse cx="607.2" cy="448" rx="58" ry="10" transform="rotate(-22 611.2 448)" fill="#808080" opacity="0.38"/>
<ellipse cx="349.5" cy="472" rx="62" ry="15" transform="rotate(22 349.5 472)" fill="#e4e4e4" opacity="0.5"/>
<ellipse cx="353.5" cy="496" rx="58" ry="10" transform="rotate(22 349.5 496)" fill="#808080" opacity="0.38"/>
<ellipse cx="612.6" cy="472" rx="62" ry="15" transform="rotate(-22 612.6 472)" fill="#e4e4e4" opacity="0.5"/>
<ellipse cx="608.6" cy="496" rx="58" ry="10" transform="rotate(-22 612.6 496)" fill="#808080" opacity="0.38"/>
<ellipse cx="350" cy="480" rx="55" ry="55" fill="#d2d2d2" opacity="0.8"/>
<ellipse cx="610" cy="480" rx="55" ry="60" fill="#d2d2d2" opacity="0.8"/>
<ellipse cx="475" cy="590" rx="95" ry="40" fill="#c4c4c4" opacity="0.9"/>
<ellipse cx="470" cy="500" rx="30" ry="60" fill="#8e8e8e" opacity="0.7"/>
</g>
<polygon points="432,640 518,640 513,688 500,694 448,694 437,688" fill="#bdbdbd" />
<rect x="42" y="692" width="380" height="26" fill="#7c7c7c"/>
<rect x="520" y="692" width="348" height="26" fill="#767676"/>
<rect x="422" y="694" width="98" height="24" fill="#2c2c2c"/>
<rect x="42" y="716" width="826" height="34" fill="#1f1f1f"/>
<rect x="42" y="25" width="826" height="725" filter="url(#semnoise)" opacity="0.09"/>
</g>
<rect x="682" y="122" width="130" height="18" fill="#fff"/>
<text x="745" y="102.5" font-size="50" letter-spacing="3" fill="#fff" text-anchor="middle">200 nm</text>
</g>
<g id="sem2" transform="translate(570,225) scale(0.285714)">
<defs><clipPath id="s2clip"><rect x="48" y="30" width="820" height="748"/></clipPath>
<filter id="s2blur"><feGaussianBlur stdDeviation="3"/></filter>
<filter id="s2tex" x="0" y="0" width="100%" height="100%"><feTurbulence type="fractalNoise" baseFrequency="0.05 0.09" numOctaves="2" seed="3"/><feColorMatrix type="matrix" values="0 0 0 0 1  0 0 0 0 1  0 0 0 0 1  0 3 0 0 -1.2"/></filter>
<filter id="s2tex2" x="0" y="0" width="100%" height="100%"><feTurbulence type="fractalNoise" baseFrequency="0.05 0.09" numOctaves="2" seed="8"/><feColorMatrix type="matrix" values="0 0 0 0 0.25  0 0 0 0 0.25  0 0 0 0 0.25  0 3 0 0 -1.3"/></filter>
</defs>
<g clip-path="url(#s2clip)">
<rect x="48" y="30" width="820" height="748" fill="#404040"/>
<polygon points="220,30 640,30 640,106 577,112 577,300 290,300 290,112 220,106" fill="#909090" />
<polygon points="48,30 76,30 76,100 48,100" fill="#8a8a8a" />
<polygon points="780,30 868,30 868,300 850,300 850,112 780,106" fill="#8e8e8e" />
<polygon points="300,450 585,450 590,778 300,778" fill="#8e8e8e" />
<rect x="48" y="766" width="820" height="12" fill="#8a8a8a"/>
<rect x="48" y="766" width="30" height="12" fill="#404040"/>
<g filter="url(#s2blur)">
<polygon points="48,308 205,300 215,455 205,505 190,512 48,512" fill="#b2b2b2" />
<polygon points="48,322 195,318 195,358 48,362" fill="#7c7c7c" />
<polygon points="48,440 205,440 200,508 48,512" fill="#b6b6b6" />
<polygon points="665,300 868,308 868,515 685,515 668,500 660,455" fill="#b2b2b2" />
<polygon points="675,318 850,322 850,362 675,358" fill="#7c7c7c" />
<polygon points="670,445 868,445 868,515 685,515" fill="#bababa" />
<rect x="200" y="283" width="468" height="135" rx="22" fill="#b0b0b0"/>
<polygon points="205,405 668,405 662,455 215,458" fill="#cecece" />
</g>
<rect x="205" y="288" width="458" height="120" rx="20" filter="url(#s2tex)" opacity="0.5"/>
<rect x="205" y="288" width="458" height="120" rx="20" filter="url(#s2tex2)" opacity="0.5"/>
<rect x="48" y="30" width="820" height="748" filter="url(#semnoise)" opacity="0.09"/>
</g>
<rect x="115" y="740" width="96" height="17" fill="#fff"/>
<text x="155" y="727" font-size="51" letter-spacing="3.2" fill="#fff" text-anchor="middle">500 nm</text>
</g>
<rect x="313.7" y="18.9" width="260.4" height="202.3" fill="none" stroke="#e4121a" stroke-width="4.2"/>
<rect x="42.2" y="233.3" width="260.2" height="215.3" fill="none" stroke="#2bb033" stroke-width="4.3"/>
<rect x="313.95" y="233.35" width="260" height="215.05" fill="none" stroke="#d2f8f8" stroke-width="3.9"/>
<rect x="163.8" y="82.6" width="17.6" height="31" fill="none" stroke="#2f9a3c" stroke-width="2.2" stroke-dasharray="0.01 4.4" stroke-linecap="round"/>
<line x1="164" y1="114" x2="41.5" y2="231" stroke="#2f9a3c" stroke-width="2.3" stroke-dasharray="0.01 4.7" stroke-linecap="round"/>
<line x1="181" y1="114" x2="303.5" y2="231" stroke="#2f9a3c" stroke-width="2.3" stroke-dasharray="0.01 4.7" stroke-linecap="round"/>
<line x1="312.5" y1="20" x2="282.7" y2="283" stroke="#c8302a" stroke-width="2.4" stroke-dasharray="0.01 4.7" stroke-linecap="round"/>
<line x1="313.3" y1="224" x2="293.2" y2="283" stroke="#c8302a" stroke-width="2.4" stroke-dasharray="0.01 4.7" stroke-linecap="round"/>
<rect x="282.7" y="283" width="10" height="9" fill="none" stroke="#c8302a" stroke-width="1.8" stroke-dasharray="0.01 3.6" stroke-linecap="round"/>
<polygon points="216.9,349 237.1,356 209.5,382.7 199.2,372.5" fill="none" stroke="#f6f6ee" stroke-width="2.3" stroke-dasharray="0.01 4.1" stroke-linecap="round"/>
<line x1="237.1" y1="356" x2="312.5" y2="234" stroke="#f6f6ee" stroke-width="2.3" stroke-dasharray="0.01 4.6" stroke-linecap="round"/>
<line x1="209.5" y1="382.7" x2="312.5" y2="446" stroke="#f6f6ee" stroke-width="2.3" stroke-dasharray="0.01 4.6" stroke-linecap="round"/>
</g>
<g id="panel-b">
<defs><clipPath id="bclip"><rect x="24.7" y="493.5" width="462.8" height="272.7"/></clipPath>
<filter id="semnoise" x="0" y="0" width="100%" height="100%" color-interpolation-filters="sRGB"><feTurbulence type="fractalNoise" baseFrequency="0.7" numOctaves="2" seed="4" result="n"/><feColorMatrix in="n" type="matrix" values="2.6 0 0 0 -0.8  2.6 0 0 0 -0.8  2.6 0 0 0 -0.8  0 0 0 0 1"/></filter>
<filter id="bblur"><feGaussianBlur stdDeviation="0.45"/></filter>
</defs>
<g clip-path="url(#bclip)">
<g filter="url(#bblur)">
<rect x="22.7" y="491.5" width="466.8" height="276.7" fill="#696969" />
<rect x="22.7" y="491.5" width="24.5" height="276.7" fill="#858585" />
<rect x="47.2" y="515" width="33" height="225" fill="#6e6e6e" />
<rect x="446" y="515" width="35" height="225" fill="#707070" />
<rect x="481" y="491.5" width="9" height="276.7" fill="#898989" />
<rect x="79.8" y="516" width="4.5" height="234" fill="#4a4a4a" />
<rect x="88.3" y="516" width="5.2" height="234" fill="#434343" />
<rect x="94.8" y="516" width="16.7" height="234" fill="#707070" />
<rect x="111.3" y="516" width="0.9" height="234" fill="#808080" />
<rect x="112.1" y="516" width="5.7" height="234" fill="#676767" />
<rect x="84" y="516" width="4.6" height="234" fill="#606060" />
<rect x="119.3" y="516" width="4.5" height="234" fill="#4a4a4a" />
<rect x="127.8" y="516" width="5.2" height="234" fill="#434343" />
<rect x="134.3" y="516" width="16.7" height="234" fill="#707070" />
<rect x="150.8" y="516" width="0.9" height="234" fill="#808080" />
<rect x="151.6" y="516" width="5.7" height="234" fill="#676767" />
<rect x="123.5" y="516" width="4.6" height="234" fill="#606060" />
<rect x="158.7" y="516" width="4.5" height="234" fill="#4a4a4a" />
<rect x="167.2" y="516" width="5.2" height="234" fill="#434343" />
<rect x="173.7" y="516" width="16.7" height="234" fill="#707070" />
<rect x="190.2" y="516" width="0.9" height="234" fill="#808080" />
<rect x="191" y="516" width="5.7" height="234" fill="#676767" />
<rect x="162.9" y="516" width="4.6" height="234" fill="#606060" />
<rect x="198.2" y="516" width="4.5" height="234" fill="#4a4a4a" />
<rect x="206.7" y="516" width="5.2" height="234" fill="#434343" />
<rect x="213.2" y="516" width="16.7" height="234" fill="#707070" />
<rect x="229.7" y="516" width="0.9" height="234" fill="#808080" />
<rect x="230.5" y="516" width="5.7" height="234" fill="#676767" />
<rect x="202.4" y="516" width="4.6" height="234" fill="#606060" />
<rect x="237.7" y="516" width="4.5" height="234" fill="#4a4a4a" />
<rect x="246.2" y="516" width="5.2" height="234" fill="#434343" />
<rect x="252.7" y="516" width="16.7" height="234" fill="#707070" />
<rect x="269.2" y="516" width="0.9" height="234" fill="#808080" />
<rect x="270" y="516" width="5.7" height="234" fill="#676767" />
<rect x="241.9" y="516" width="4.6" height="234" fill="#606060" />
<rect x="277.1" y="516" width="4.5" height="234" fill="#4a4a4a" />
<rect x="285.6" y="516" width="5.2" height="234" fill="#434343" />
<rect x="292.1" y="516" width="16.7" height="234" fill="#707070" />
<rect x="308.6" y="516" width="0.9" height="234" fill="#808080" />
<rect x="309.4" y="516" width="5.7" height="234" fill="#676767" />
<rect x="281.3" y="516" width="4.6" height="234" fill="#606060" />
<rect x="316.6" y="516" width="4.5" height="234" fill="#4a4a4a" />
<rect x="325.1" y="516" width="5.2" height="234" fill="#434343" />
<rect x="331.6" y="516" width="16.7" height="234" fill="#707070" />
<rect x="348.1" y="516" width="0.9" height="234" fill="#808080" />
<rect x="348.9" y="516" width="5.7" height="234" fill="#676767" />
<rect x="320.8" y="516" width="4.6" height="234" fill="#606060" />
<rect x="356.1" y="516" width="4.5" height="234" fill="#4a4a4a" />
<rect x="364.6" y="516" width="5.2" height="234" fill="#434343" />
<rect x="371.1" y="516" width="16.7" height="234" fill="#707070" />
<rect x="387.6" y="516" width="0.9" height="234" fill="#808080" />
<rect x="388.4" y="516" width="5.7" height="234" fill="#676767" />
<rect x="360.3" y="516" width="4.6" height="234" fill="#606060" />
<rect x="395.6" y="516" width="4.5" height="234" fill="#4a4a4a" />
<rect x="404.1" y="516" width="5.2" height="234" fill="#434343" />
<rect x="410.6" y="516" width="16.7" height="234" fill="#707070" />
<rect x="427.1" y="516" width="0.9" height="234" fill="#808080" />
<rect x="427.9" y="516" width="5.7" height="234" fill="#676767" />
<rect x="399.8" y="516" width="4.6" height="234" fill="#606060" />
<rect x="435" y="516" width="4.5" height="234" fill="#4a4a4a" />
<rect x="443.5" y="516" width="5.2" height="234" fill="#434343" />
<rect x="439.2" y="516" width="4.6" height="234" fill="#606060" />
<rect x="47" y="491.5" width="434" height="23.5" fill="#797979" />
<rect x="47.3" y="491.5" width="50.9" height="23.3" fill="#313131" />
<rect x="114.4" y="491.5" width="22.8" height="23.3" fill="#313131" />
<rect x="153.8" y="491.5" width="22.8" height="23.3" fill="#313131" />
<rect x="193.3" y="491.5" width="22.8" height="23.3" fill="#313131" />
<rect x="232.8" y="491.5" width="22.8" height="23.3" fill="#313131" />
<rect x="272.2" y="491.5" width="22.8" height="23.3" fill="#313131" />
<rect x="311.7" y="491.5" width="22.8" height="23.3" fill="#313131" />
<rect x="351.2" y="491.5" width="22.8" height="23.3" fill="#313131" />
<rect x="390.7" y="491.5" width="22.8" height="23.3" fill="#313131" />
<rect x="430.4" y="491.5" width="49.8" height="23.3" fill="#313131" />
<rect x="24.7" y="515.2" width="60" height="1" fill="#9e9e9e" />
<rect x="90.6" y="737.5" width="30.9" height="11.5" fill="#3a3a3a" />
<rect x="130.1" y="737.5" width="30.9" height="11.5" fill="#3a3a3a" />
<rect x="169.5" y="737.5" width="30.9" height="11.5" fill="#3a3a3a" />
<rect x="209" y="737.5" width="30.9" height="11.5" fill="#3a3a3a" />
<rect x="248.5" y="737.5" width="30.9" height="11.5" fill="#3a3a3a" />
<rect x="287.9" y="737.5" width="30.9" height="11.5" fill="#3a3a3a" />
<rect x="327.4" y="737.5" width="30.9" height="11.5" fill="#3a3a3a" />
<rect x="366.9" y="737.5" width="30.9" height="11.5" fill="#3a3a3a" />
<rect x="406.4" y="737.5" width="30.9" height="11.5" fill="#3a3a3a" />
<rect x="82" y="750.5" width="366" height="18" fill="#777777" />
<path d="M22.7 744 L38 739 L82 739 L82 769 L22.7 769Z" fill="#2a2a2a"/>
<rect x="445.5" y="739" width="45" height="30" fill="#2c2c2c" />
</g>
<path d="M84.2 766.5 L84.2 519.8 Q84.2 517.5 86.3 517.5 Q88.3 517.5 88.3 519.8 L88.3 747.3 Q88.3 750.3 91.3 750.3 L120.7 750.3 Q123.7 750.3 123.7 747.3 L123.7 519.8 Q123.7 517.5 125.8 517.5 Q127.8 517.5 127.8 519.8 L127.8 747.3 Q127.8 750.3 130.8 750.3 L160.2 750.3 Q163.2 750.3 163.2 747.3 L163.2 519.8 Q163.2 517.5 165.2 517.5 Q167.3 517.5 167.3 519.8 L167.3 747.3 Q167.3 750.3 170.3 750.3 L199.7 750.3 Q202.7 750.3 202.7 747.3 L202.7 519.8 Q202.7 517.5 204.7 517.5 Q206.8 517.5 206.8 519.8 L206.8 747.3 Q206.8 750.3 209.8 750.3 L239.1 750.3 Q242.1 750.3 242.1 747.3 L242.1 519.8 Q242.1 517.5 244.2 517.5 Q246.2 517.5 246.2 519.8 L246.2 747.3 Q246.2 750.3 249.2 750.3 L278.6 750.3 Q281.6 750.3 281.6 747.3 L281.6 519.8 Q281.6 517.5 283.6 517.5 Q285.7 517.5 285.7 519.8 L285.7 747.3 Q285.7 750.3 288.7 750.3 L318.1 750.3 Q321.1 750.3 321.1 747.3 L321.1 519.8 Q321.1 517.5 323.1 517.5 Q325.2 517.5 325.2 519.8 L325.2 747.3 Q325.2 750.3 328.2 750.3 L357.5 750.3 Q360.5 750.3 360.5 747.3 L360.5 519.8 Q360.5 517.5 362.6 517.5 Q364.6 517.5 364.6 519.8 L364.6 747.3 Q364.6 750.3 367.6 750.3 L397 750.3 Q400 750.3 400 747.3 L400 519.8 Q400 517.5 402.1 517.5 Q404.1 517.5 404.1 519.8 L404.1 747.3 Q404.1 750.3 407.1 750.3 L436.5 750.3 Q439.5 750.3 439.5 747.3 L439.5 519.8 Q439.5 517.5 441.5 517.5 Q443.6 517.5 443.6 519.8 L443.6 766.5" fill="none" stroke="#e6e6e6" stroke-width="1.5"/>
<rect x="480.3" y="517" width="0.9" height="155" fill="#dadada"/>
<rect x="24.7" y="493.5" width="462.8" height="272.7" filter="url(#semnoise)" opacity="0.12"/>
<rect x="478" y="672.5" width="5.6" height="66" fill="#fff"/>
<text transform="translate(470.4,704.3) rotate(-90)" font-size="16" fill="#f4f4f4" text-anchor="middle">3 µm</text>
<line x1="57.6" y1="589.3" x2="164.2" y2="550.8" stroke="#e4de4c" stroke-width="4.8"/><path d="M173.8 547.3L161.2 559.5L163.3 551.1L156.3 546Z" fill="#e4de4c"/>
<line x1="141.9" y1="601.4" x2="198.7" y2="553.8" stroke="#e4de4c" stroke-width="4.8"/><path d="M206.5 547.3L198.9 563.1L197.9 554.5L189.6 552.1Z" fill="#e4de4c"/>
<line x1="225.2" y1="612.7" x2="225.2" y2="558.3" stroke="#e4de4c" stroke-width="4.8"/><path d="M225.2 548.1L232.4 564.1L225.2 559.3L218 564.1Z" fill="#e4de4c"/>
<line x1="303.2" y1="608.6" x2="251.9" y2="559.6" stroke="#e4de4c" stroke-width="4.8"/><path d="M244.5 552.6L261 558.4L252.6 560.3L251.1 568.9Z" fill="#e4de4c"/>
<line x1="379.6" y1="600.3" x2="275.7" y2="555" stroke="#e4de4c" stroke-width="4.8"/><path d="M266.4 550.9L283.9 550.7L276.7 555.4L278.2 563.9Z" fill="#e4de4c"/>
<line x1="467" y1="600.9" x2="300.1" y2="550.3" stroke="#e4de4c" stroke-width="4.8"/><path d="M290.3 547.3L307.7 545.1L301 550.6L303.5 558.8Z" fill="#e4de4c"/>
<line x1="102.9" y1="646.2" x2="227.4" y2="720.1" stroke="#2ba9d6" stroke-width="4.8"/><path d="M236.2 725.3L218.8 723.3L226.6 719.6L226.1 710.9Z" fill="#2ba9d6"/>
<line x1="181.2" y1="649.8" x2="234.9" y2="697.9" stroke="#2ba9d6" stroke-width="4.8"/><path d="M242.5 704.7L225.8 699.4L234.2 697.2L235.4 688.7Z" fill="#2ba9d6"/>
<line x1="264.8" y1="648.1" x2="264.8" y2="693.7" stroke="#2ba9d6" stroke-width="4.8"/><path d="M264.8 703.9L257.6 687.9L264.8 692.7L272 687.9Z" fill="#2ba9d6"/>
<line x1="346.1" y1="650.9" x2="295.9" y2="697" stroke="#2ba9d6" stroke-width="4.8"/><path d="M288.4 703.9L295.3 687.8L296.6 696.3L305.1 698.4Z" fill="#2ba9d6"/>
<line x1="425" y1="653" x2="302.9" y2="719.1" stroke="#2ba9d6" stroke-width="4.8"/><path d="M293.9 724L304.5 710L303.7 718.7L311.4 722.7Z" fill="#2ba9d6"/>
<line x1="265" y1="758.8" x2="93.5" y2="758.8" stroke="#e8912b" stroke-width="5.6"/><path d="M83.3 758.8L99.3 752.2L94.5 758.8L99.3 765.4Z" fill="#e8912b"/>
<line x1="265" y1="758.8" x2="436.8" y2="758.8" stroke="#e8912b" stroke-width="5.6"/><path d="M447 758.8L431 765.4L435.8 758.8L431 752.2Z" fill="#e8912b"/>
<text transform="translate(226.5,537.9) scale(0.97,1)" font-size="40.5" fill="#e4de4c" text-anchor="middle">D</text>
<text transform="translate(265.1,745.8) scale(0.97,1)" font-size="40.5" fill="#2ba9d6" text-anchor="middle">S</text>
<text transform="translate(80.5,742.2) scale(1,1)" font-size="41" fill="#e8912b" text-anchor="middle">G</text>
</g>
</g>
<g id="chart-c">
<path d="M864.9 723.6 L862.8 721 L860.8 718.5 L858.7 716 L856.6 713.5 L854.5 711 L852.5 708.5 L850.4 706 L848.3 703.5 L846.2 701 L844.2 698.5 L842.1 695.8 L840 693.1 L837.9 690.6 L835.9 688.3 L833.8 686.1 L831.7 683.9 L829.7 681.3 L827.6 678.8 L825.5 676.5 L823.4 674.2 L821.4 671.3 L819.3 668.6 L817.2 666.3 L815.1 664.4 L813.1 661.9 L811 659.3 L808.9 656.9 L806.8 654.8 L804.8 652.2 L802.7 649 L800.6 646.7 L798.6 644.9 L796.5 643.2 L794.4 641.1 L792.3 638.9 L790.3 636.5 L788.2 633 L786.1 630.2 L784 628.1 L782 626 L779.9 623.4 L777.8 621.2 L775.7 619.4 L773.7 617.1 L771.6 614.4 L769.5 612 L767.5 610.2 L765.4 608 L763.3 605.1 L761.2 601.6 L759.2 599 L757.1 596.8 L755 594.5 L752.9 593.2 L750.9 591.6 L748.8 590.6 L746.7 588.7 L744.6 587.6 L742.6 584.7 L740.5 581.7 L738.4 579 L736.4 577 L734.3 575.5 L732.2 573.8 L730.1 572.4 L728.1 570.6 L726 568.8 L723.9 566.1 L721.8 564 L719.8 562.4 L717.7 561.2 L715.6 558.5 L713.5 556.7 L711.5 554.9 L709.4 553.7 L707.3 552.2 L705.2 551.5 L703.2 549.9 L701.1 548.8 L699 547.1 L697 545.9 L694.9 544.4 L692.8 543.4 L690.7 541.9 L688.7 540.4 L686.6 539.9 L684.5 540.4 L682.4 540 L680.4 538.7 L678.3 536.7 L676.2 535.8 L674.1 534.5 L672.1 533.5 L670 532.4 L667.9 531.4 L665.9 530.5 L663.8 529.9 L661.7 528.5 L659.6 526.8 L657.6 526.5 L655.5 526.8 L653.4 526 L651.3 524.3 L649.3 523.4 L647.2 523.2 L645.1 523.3 L643 522.4 L641 521.2 L638.9 520.5 L636.8 520.2 L634.8 519.8 L632.7 518.7 L630.6 518 L628.5 517.2 L626.5 516.4 L624.4 515.2 L622.3 515.1 L620.2 514.5 L618.2 514 L616.1 513.2 L614 513.2 L611.9 513.1 L609.9 512.7 L607.8 511.5 L605.7 510.3 L603.7 509.8 L601.6 509.5 L599.5 509.3 L597.4 509 L595.4 507.4 L593.3 506.1 L591.2 505.8 L589.1 506 L587.1 505.8 L585 505.5 L582.9 504.9 L580.8 504.3 L578.8 504.5 L576.7 504.5" fill="none" stroke="#c4741e" stroke-width="2" stroke-linejoin="round"/>
<path d="M864.9 723.6 L862.8 721.2 L860.8 718.9 L858.7 716.5 L856.6 714.2 L854.5 711.8 L852.5 709.5 L850.4 707.1 L848.3 704.8 L846.2 702.5 L844.2 700.2 L842.1 698 L840 695.7 L837.9 693.4 L835.9 691 L833.8 688.8 L831.7 686.5 L829.7 684.3 L827.6 681.8 L825.5 679.6 L823.4 677.4 L821.4 675.3 L819.3 673.2 L817.2 670.5 L815.1 668 L813.1 666 L811 664.1 L808.9 661.9 L806.8 659.5 L804.8 657.3 L802.7 654.9 L800.6 652.9 L798.6 651 L796.5 648.6 L794.4 646.6 L792.3 644.7 L790.3 642.4 L788.2 639.3 L786.1 636.4 L784 633.6 L782 631.4 L779.9 629.5 L777.8 628 L775.7 626.7 L773.7 624.8 L771.6 622.9 L769.5 620 L767.5 617.2 L765.4 614.9 L763.3 613.3 L761.2 612 L759.2 610 L757.1 607.6 L755 605 L752.9 603.4 L750.9 601.1 L748.8 598.8 L746.7 596.9 L744.6 596.2 L742.6 595 L740.5 593.2 L738.4 591.3 L736.4 589.4 L734.3 587.4 L732.2 585.3 L730.1 583.4 L728.1 582.1 L726 581 L723.9 579.9 L721.8 578.6 L719.8 576.6 L717.7 574.8 L715.6 572.8 L713.5 571.8 L711.5 570.4 L709.4 569.3 L707.3 567.7 L705.2 566.5 L703.2 565.6 L701.1 564.6 L699 563.6 L697 562.6 L694.9 560.8 L692.8 559.4 L690.7 557.7 L688.7 557.9 L686.6 557.4 L684.5 556.4 L682.4 554.6 L680.4 553.3 L678.3 552.2 L676.2 551.3 L674.1 550.7 L672.1 548.9 L670 547.6 L667.9 547.1 L665.9 547.3 L663.8 546.6 L661.7 546.3 L659.6 545.5 L657.6 543.8 L655.5 541.9 L653.4 541 L651.3 540.8 L649.3 539.7 L647.2 538.9 L645.1 538 L643 537.5 L641 537.1 L638.9 536.6 L636.8 537 L634.8 537.1 L632.7 536.8 L630.6 535.5 L628.5 534.9 L626.5 534.6 L624.4 533.9 L622.3 532.4 L620.2 530.9 L618.2 530.4 L616.1 530.4 L614 530 L611.9 529.3 L609.9 529 L607.8 527.9 L605.7 528 L603.7 527.7 L601.6 527.5 L599.5 527 L597.4 526.6 L595.4 526.2 L593.3 525 L591.2 524.5 L589.1 523.7 L587.1 523.8 L585 523.3 L582.9 523.7 L580.8 523.7 L578.8 523.7 L576.7 522.8" fill="none" stroke="#c4741e" stroke-width="2" stroke-linejoin="round"/>
<path d="M864.9 723.6 L862.8 721.4 L860.8 719.2 L858.7 717 L856.6 714.7 L854.5 712.5 L852.5 710.4 L850.4 708.3 L848.3 706.1 L846.2 703.8 L844.2 701.7 L842.1 699.8 L840 697.9 L837.9 695.8 L835.9 693.8 L833.8 691.6 L831.7 689.4 L829.7 687 L827.6 684.8 L825.5 682.7 L823.4 681.1 L821.4 679.2 L819.3 676.8 L817.2 674.6 L815.1 672.9 L813.1 671.1 L811 668.8 L808.9 666.7 L806.8 664.4 L804.8 662.3 L802.7 660.1 L800.6 658.6 L798.6 656.7 L796.5 654.7 L794.4 653 L792.3 651.1 L790.3 649.2 L788.2 646.8 L786.1 645.1 L784 642.2 L782 639.8 L779.9 637.3 L777.8 635.6 L775.7 634.1 L773.7 633.3 L771.6 631.9 L769.5 629.1 L767.5 626.4 L765.4 624.3 L763.3 622.4 L761.2 621.1 L759.2 619.8 L757.1 617.6 L755 615.5 L752.9 614.8 L750.9 614.1 L748.8 612.4 L746.7 610.2 L744.6 608.8 L742.6 607.3 L740.5 606.5 L738.4 604.8 L736.4 602.6 L734.3 600 L732.2 599.4 L730.1 598.7 L728.1 598.5 L726 596.9 L723.9 595.4 L721.8 593.5 L719.8 592.3 L717.7 590.8 L715.6 589 L713.5 587.8 L711.5 586.7 L709.4 586.4 L707.3 586 L705.2 585 L703.2 583.2 L701.1 581.7 L699 580.1 L697 579.4 L694.9 578.8 L692.8 578.2 L690.7 577.1 L688.7 576.1 L686.6 575.5 L684.5 574.2 L682.4 573.5 L680.4 572.4 L678.3 571.9 L676.2 570.7 L674.1 570.6 L672.1 570.1 L670 569.8 L667.9 568.7 L665.9 567.7 L663.8 567.2 L661.7 567.3 L659.6 567.3 L657.6 566.3 L655.5 565.7 L653.4 565 L651.3 564.7 L649.3 564 L647.2 563.6 L645.1 562.5 L643 561.7 L641 561.3 L638.9 560.9 L636.8 560.3 L634.8 560.5 L632.7 560.4 L630.6 559.6 L628.5 557.9 L626.5 556.5 L624.4 555.8 L622.3 555.8 L620.2 556.4 L618.2 556.2 L616.1 555.5 L614 554.3 L611.9 554.1 L609.9 554.1 L607.8 553.7 L605.7 552.4 L603.7 551.9 L601.6 552.1 L599.5 552.6 L597.4 552.5 L595.4 552.1 L593.3 551.4 L591.2 550.4 L589.1 549.7 L587.1 549.3 L585 549.4 L582.9 549.4 L580.8 549.5 L578.8 549.2 L576.7 549" fill="none" stroke="#c4741e" stroke-width="2" stroke-linejoin="round"/>
<path d="M864.9 723.6 L862.8 721.6 L860.8 719.6 L858.7 717.6 L856.6 715.6 L854.5 713.7 L852.5 711.7 L850.4 709.6 L848.3 707.6 L846.2 705.6 L844.2 703.7 L842.1 701.8 L840 700 L837.9 698.1 L835.9 696.1 L833.8 694.4 L831.7 692.6 L829.7 690.6 L827.6 688.4 L825.5 686.2 L823.4 684.5 L821.4 682.7 L819.3 680.9 L817.2 679.3 L815.1 677.7 L813.1 676 L811 674 L808.9 672.3 L806.8 670.3 L804.8 668.5 L802.7 666.8 L800.6 665.1 L798.6 663.2 L796.5 661.5 L794.4 659.7 L792.3 657.9 L790.3 656.3 L788.2 654.9 L786.1 653.4 L784 651.7 L782 649.3 L779.9 647.2 L777.8 645.6 L775.7 644.6 L773.7 642.9 L771.6 640.8 L769.5 638.5 L767.5 636.9 L765.4 635.9 L763.3 634.8 L761.2 633.5 L759.2 632.3 L757.1 630.9 L755 629.3 L752.9 627.4 L750.9 625.7 L748.8 624.7 L746.7 624.1 L744.6 623.2 L742.6 622.1 L740.5 620.4 L738.4 619 L736.4 617.4 L734.3 616.7 L732.2 616.4 L730.1 615.4 L728.1 613.7 L726 612.6 L723.9 612 L721.8 610.9 L719.8 609.8 L717.7 608.6 L715.6 607.8 L713.5 607.1 L711.5 606.4 L709.4 605.2 L707.3 604.3 L705.2 603.7 L703.2 603.4 L701.1 602.2 L699 601.5 L697 600.4 L694.9 600.2 L692.8 599.2 L690.7 598.3 L688.7 597.7 L686.6 597.1 L684.5 596.6 L682.4 596 L680.4 595.7 L678.3 595.2 L676.2 594.7 L674.1 593.8 L672.1 592.8 L670 591.8 L667.9 591.2 L665.9 591 L663.8 591.4 L661.7 591.3 L659.6 590.3 L657.6 589.1 L655.5 588.7 L653.4 588.1 L651.3 587.9 L649.3 587.8 L647.2 587.6 L645.1 585.9 L643 584.8 L641 584.9 L638.9 585.1 L636.8 584.4 L634.8 583.5 L632.7 583.4 L630.6 583.6 L628.5 583.5 L626.5 582.8 L624.4 581.8 L622.3 580.8 L620.2 580.7 L618.2 581.3 L616.1 581.5 L614 581 L611.9 580.4 L609.9 579.9 L607.8 579.5 L605.7 579 L603.7 578.8 L601.6 579 L599.5 579.6 L597.4 579.7 L595.4 579.4 L593.3 579.2 L591.2 578.6 L589.1 577.8 L587.1 577.2 L585 577.5 L582.9 577.9 L580.8 577.9 L578.8 576.9 L576.7 576" fill="none" stroke="#c4741e" stroke-width="2" stroke-linejoin="round"/>
<path d="M864.9 723.6 L862.8 721.8 L860.8 720 L858.7 718.2 L856.6 716.5 L854.5 714.7 L852.5 713 L850.4 711.2 L848.3 709.5 L846.2 707.9 L844.2 706.3 L842.1 704.4 L840 702.6 L837.9 700.9 L835.9 699.4 L833.8 698 L831.7 696.4 L829.7 694.7 L827.6 693.1 L825.5 691.6 L823.4 690 L821.4 688.2 L819.3 686.7 L817.2 685.2 L815.1 683.9 L813.1 682.4 L811 681 L808.9 679.2 L806.8 677 L804.8 675.4 L802.7 674.3 L800.6 673.1 L798.6 671.9 L796.5 670.5 L794.4 669.4 L792.3 667.5 L790.3 665.7 L788.2 663.9 L786.1 663 L784 661.7 L782 660.1 L779.9 658.6 L777.8 657.5 L775.7 656.6 L773.7 655.4 L771.6 653.8 L769.5 652 L767.5 650.8 L765.4 650.1 L763.3 648.9 L761.2 647.6 L759.2 646.3 L757.1 645.5 L755 644.4 L752.9 642.9 L750.9 641.7 L748.8 640.8 L746.7 639.8 L744.6 638.6 L742.6 637.9 L740.5 637.5 L738.4 637.2 L736.4 636.5 L734.3 635.5 L732.2 634.3 L730.1 633.6 L728.1 633.1 L726 632.8 L723.9 631.7 L721.8 630.9 L719.8 630 L717.7 629.8 L715.6 629.2 L713.5 628.7 L711.5 627.5 L709.4 626.5 L707.3 625.9 L705.2 625.9 L703.2 625.6 L701.1 624.8 L699 623.5 L697 623 L694.9 623 L692.8 622.9 L690.7 622.1 L688.7 621.7 L686.6 621.2 L684.5 620.1 L682.4 619.5 L680.4 619.1 L678.3 618.3 L676.2 617.1 L674.1 616.7 L672.1 616 L670 615.3 L667.9 615 L665.9 615 L663.8 614.7 L661.7 614 L659.6 613.9 L657.6 613.1 L655.5 612.9 L653.4 612 L651.3 611.4 L649.3 610.7 L647.2 610.6 L645.1 610.2 L643 610.3 L641 610.1 L638.9 609.7 L636.8 608.8 L634.8 608.4 L632.7 607.3 L630.6 606.8 L628.5 606.9 L626.5 607.4 L624.4 606.8 L622.3 607.1 L620.2 606.8 L618.2 606.8 L616.1 606.8 L614 607.3 L611.9 606.9 L609.9 605.9 L607.8 605.4 L605.7 604.9 L603.7 604.7 L601.6 604.6 L599.5 605.1 L597.4 604.9 L595.4 604.3 L593.3 603.6 L591.2 604.2 L589.1 604.7 L587.1 604 L585 603.3 L582.9 603.2 L580.8 603.7 L578.8 603.3 L576.7 602.9" fill="none" stroke="#c4741e" stroke-width="2" stroke-linejoin="round"/>
<path d="M864.9 723.6 L862.8 722.1 L860.8 720.6 L858.7 719.1 L856.6 717.6 L854.5 716.1 L852.5 714.6 L850.4 713.1 L848.3 711.7 L846.2 710.3 L844.2 708.9 L842.1 707.4 L840 706.1 L837.9 704.8 L835.9 703.5 L833.8 702.1 L831.7 700.7 L829.7 699.4 L827.6 698.2 L825.5 697 L823.4 695.6 L821.4 694.3 L819.3 693.1 L817.2 691.9 L815.1 690.6 L813.1 689.8 L811 688.7 L808.9 687.5 L806.8 686.3 L804.8 685.3 L802.7 684.1 L800.6 683.2 L798.6 682.3 L796.5 681.1 L794.4 679.8 L792.3 678.4 L790.3 677.3 L788.2 676.4 L786.1 675.4 L784 674.6 L782 673.2 L779.9 672 L777.8 671.4 L775.7 671.2 L773.7 669.9 L771.6 668.7 L769.5 667.8 L767.5 667.1 L765.4 666.1 L763.3 665 L761.2 663.8 L759.2 662.9 L757.1 662.2 L755 661.9 L752.9 661.3 L750.9 660.8 L748.8 659.8 L746.7 659 L744.6 658.3 L742.6 657.9 L740.5 657.5 L738.4 657.3 L736.4 656.2 L734.3 655.1 L732.2 654.1 L730.1 654 L728.1 653.8 L726 653.1 L723.9 652.6 L721.8 652.5 L719.8 651.8 L717.7 650.7 L715.6 650 L713.5 649.5 L711.5 649.1 L709.4 648.7 L707.3 648.3 L705.2 648.2 L703.2 647.8 L701.1 647.4 L699 646.3 L697 645.5 L694.9 645.1 L692.8 645.3 L690.7 645 L688.7 644.6 L686.6 644 L684.5 643.5 L682.4 642.9 L680.4 642.7 L678.3 642.3 L676.2 641.8 L674.1 641.5 L672.1 641.3 L670 640.9 L667.9 640.4 L665.9 640.2 L663.8 640.3 L661.7 639.7 L659.6 639.2 L657.6 638.9 L655.5 638.7 L653.4 638.4 L651.3 637.8 L649.3 637.3 L647.2 636.5 L645.1 636.4 L643 636.6 L641 636.9 L638.9 636.3 L636.8 635.7 L634.8 635.3 L632.7 635 L630.6 634.6 L628.5 634.5 L626.5 634.7 L624.4 634.3 L622.3 634.3 L620.2 634.2 L618.2 633.6 L616.1 632.9 L614 633.2 L611.9 634 L609.9 633.8 L607.8 632.8 L605.7 632.3 L603.7 632 L601.6 632.1 L599.5 631.8 L597.4 631.6 L595.4 631 L593.3 631 L591.2 630.7 L589.1 630.7 L587.1 630.8 L585 630.7 L582.9 630.4 L580.8 630.5 L578.8 630.4 L576.7 630.1" fill="none" stroke="#c4741e" stroke-width="2" stroke-linejoin="round"/>
<path d="M864.9 723.6 L862.8 722.4 L860.8 721.1 L858.7 719.9 L856.6 718.7 L854.5 717.6 L852.5 716.4 L850.4 715.2 L848.3 714 L846.2 712.9 L844.2 711.8 L842.1 710.8 L840 709.6 L837.9 708.5 L835.9 707.4 L833.8 706.5 L831.7 705.5 L829.7 704.6 L827.6 703.4 L825.5 702.3 L823.4 701.2 L821.4 700.3 L819.3 699.3 L817.2 698.5 L815.1 697.8 L813.1 697.3 L811 696.2 L808.9 695.1 L806.8 694.4 L804.8 693.6 L802.7 692.6 L800.6 691.7 L798.6 691.2 L796.5 690.9 L794.4 690.1 L792.3 689 L790.3 687.9 L788.2 687.1 L786.1 686.3 L784 685.6 L782 685 L779.9 684.6 L777.8 684.2 L775.7 683.7 L773.7 683 L771.6 682.2 L769.5 681.3 L767.5 680.4 L765.4 680.1 L763.3 680 L761.2 679.3 L759.2 678.6 L757.1 678.1 L755 677.8 L752.9 677.2 L750.9 676.5 L748.8 676 L746.7 675.9 L744.6 675.5 L742.6 674.7 L740.5 674 L738.4 673.8 L736.4 673.4 L734.3 672.8 L732.2 672.1 L730.1 671.9 L728.1 672 L726 671.8 L723.9 671.3 L721.8 670.8 L719.8 670.6 L717.7 670.8 L715.6 670.6 L713.5 669.9 L711.5 669 L709.4 668.4 L707.3 668 L705.2 668 L703.2 667.9 L701.1 667.7 L699 667.1 L697 666.9 L694.9 666.6 L692.8 666.5 L690.7 666.2 L688.7 666.3 L686.6 666.2 L684.5 666.2 L682.4 665.8 L680.4 665.1 L678.3 664 L676.2 663.7 L674.1 663.9 L672.1 664.4 L670 663.9 L667.9 663.6 L665.9 663.1 L663.8 663.5 L661.7 663.3 L659.6 662.9 L657.6 662.2 L655.5 662 L653.4 662 L651.3 662.1 L649.3 661.7 L647.2 661.1 L645.1 660.8 L643 660.8 L641 660.8 L638.9 660.4 L636.8 659.9 L634.8 659.7 L632.7 659.8 L630.6 659.5 L628.5 659.3 L626.5 658.8 L624.4 658.4 L622.3 658.1 L620.2 658.2 L618.2 657.9 L616.1 657.9 L614 657.9 L611.9 658 L609.9 657.6 L607.8 657.4 L605.7 657.3 L603.7 657.4 L601.6 657.7 L599.5 657.4 L597.4 656.8 L595.4 656.3 L593.3 656.2 L591.2 656.1 L589.1 655.7 L587.1 655.3 L585 655.4 L582.9 655.6 L580.8 655.3 L578.8 655 L576.7 654.9" fill="none" stroke="#c4741e" stroke-width="2" stroke-linejoin="round"/>
<path d="M864.9 723.6 L862.8 722.8 L860.8 722 L858.7 721.2 L856.6 720.4 L854.5 719.6 L852.5 718.8 L850.4 718.1 L848.3 717.4 L846.2 716.6 L844.2 715.8 L842.1 715.1 L840 714.4 L837.9 713.7 L835.9 713 L833.8 712.3 L831.7 711.6 L829.7 710.8 L827.6 710.2 L825.5 709.6 L823.4 709 L821.4 708.5 L819.3 708 L817.2 707.6 L815.1 707 L813.1 706.3 L811 705.4 L808.9 704.7 L806.8 704.3 L804.8 703.8 L802.7 703.5 L800.6 703 L798.6 702.6 L796.5 702 L794.4 701.3 L792.3 700.8 L790.3 700.4 L788.2 700.1 L786.1 699.6 L784 699.4 L782 698.8 L779.9 698.4 L777.8 697.8 L775.7 697.6 L773.7 697 L771.6 696.4 L769.5 696 L767.5 695.8 L765.4 695.5 L763.3 695 L761.2 694.5 L759.2 694 L757.1 693.5 L755 693.2 L752.9 693.3 L750.9 693.1 L748.8 692.4 L746.7 691.9 L744.6 692.1 L742.6 692.5 L740.5 692.1 L738.4 691.8 L736.4 691 L734.3 691.1 L732.2 690.9 L730.1 690.7 L728.1 690.1 L726 690 L723.9 689.9 L721.8 689.6 L719.8 689.3 L717.7 689.1 L715.6 688.9 L713.5 688.7 L711.5 688.3 L709.4 688 L707.3 687.8 L705.2 687.8 L703.2 687.5 L701.1 687.4 L699 687.1 L697 687.4 L694.9 687.3 L692.8 687.4 L690.7 686.6 L688.7 686.1 L686.6 685.9 L684.5 686.1 L682.4 685.7 L680.4 685.2 L678.3 685 L676.2 685.2 L674.1 685.4 L672.1 685.2 L670 684.3 L667.9 683.9 L665.9 683.9 L663.8 684.2 L661.7 683.9 L659.6 683.8 L657.6 683.6 L655.5 684 L653.4 683.9 L651.3 683.6 L649.3 682.9 L647.2 682.8 L645.1 682.7 L643 682.7 L641 682.5 L638.9 682.6 L636.8 682.8 L634.8 682.8 L632.7 682.2 L630.6 681.9 L628.5 681.8 L626.5 681.7 L624.4 681.6 L622.3 681.5 L620.2 681.5 L618.2 681.1 L616.1 680.9 L614 680.6 L611.9 680.6 L609.9 680.5 L607.8 680.2 L605.7 680.2 L603.7 680.3 L601.6 680.5 L599.5 680.1 L597.4 680 L595.4 679.8 L593.3 679.5 L591.2 679 L589.1 679 L587.1 679.4 L585 679.5 L582.9 679.2 L580.8 678.9 L578.8 678.7 L576.7 678.7" fill="none" stroke="#c4741e" stroke-width="2" stroke-linejoin="round"/>
<path d="M864.9 723.6 L862.8 723.1 L860.8 722.6 L858.7 722.1 L856.6 721.6 L854.5 721.1 L852.5 720.7 L850.4 720.2 L848.3 719.7 L846.2 719.3 L844.2 718.9 L842.1 718.5 L840 718 L837.9 717.6 L835.9 717.2 L833.8 716.8 L831.7 716.4 L829.7 715.9 L827.6 715.5 L825.5 715.1 L823.4 714.8 L821.4 714.5 L819.3 714.1 L817.2 713.7 L815.1 713.3 L813.1 713 L811 712.8 L808.9 712.4 L806.8 711.9 L804.8 711.5 L802.7 711.3 L800.6 711.2 L798.6 710.8 L796.5 710.5 L794.4 710.3 L792.3 710.2 L790.3 710.1 L788.2 709.6 L786.1 709.2 L784 708.7 L782 708.7 L779.9 708.6 L777.8 708.3 L775.7 707.8 L773.7 707.1 L771.6 706.8 L769.5 707 L767.5 707.3 L765.4 707.2 L763.3 706.5 L761.2 706.3 L759.2 706 L757.1 706 L755 705.7 L752.9 705.3 L750.9 705.1 L748.8 705.4 L746.7 705.6 L744.6 705 L742.6 704.4 L740.5 704.2 L738.4 704.3 L736.4 704.1 L734.3 703.7 L732.2 703.4 L730.1 703.5 L728.1 703.4 L726 703.2 L723.9 702.9 L721.8 702.4 L719.8 702.4 L717.7 702.7 L715.6 702.7 L713.5 702.2 L711.5 702 L709.4 702 L707.3 701.9 L705.2 701.6 L703.2 701.4 L701.1 701.2 L699 700.9 L697 700.5 L694.9 700.3 L692.8 700.3 L690.7 700.3 L688.7 700.4 L686.6 700.2 L684.5 700 L682.4 699.7 L680.4 699.6 L678.3 699.5 L676.2 699.5 L674.1 699.6 L672.1 699.6 L670 699.6 L667.9 699.2 L665.9 699.1 L663.8 699 L661.7 699 L659.6 698.8 L657.6 698.6 L655.5 698.5 L653.4 698.5 L651.3 698.4 L649.3 698.2 L647.2 698.2 L645.1 698.2 L643 698.2 L641 698.3 L638.9 698.2 L636.8 698 L634.8 697.9 L632.7 697.7 L630.6 697.6 L628.5 697.5 L626.5 697.5 L624.4 697.6 L622.3 697.7 L620.2 697.8 L618.2 697.6 L616.1 697.4 L614 696.8 L611.9 696.6 L609.9 696.9 L607.8 697.2 L605.7 697 L603.7 696.7 L601.6 696.4 L599.5 696.5 L597.4 696.7 L595.4 697.1 L593.3 697 L591.2 696.7 L589.1 696.5 L587.1 696.4 L585 696.4 L582.9 696.1 L580.8 696.2 L578.8 696.3 L576.7 696.3" fill="none" stroke="#c4741e" stroke-width="2" stroke-linejoin="round"/>
<path d="M864.9 723.6 L862.8 723.3 L860.8 723 L858.7 722.7 L856.6 722.5 L854.5 722.2 L852.5 722 L850.4 721.8 L848.3 721.5 L846.2 721.2 L844.2 720.9 L842.1 720.7 L840 720.4 L837.9 720.2 L835.9 719.9 L833.8 719.7 L831.7 719.5 L829.7 719.4 L827.6 719.3 L825.5 719.1 L823.4 718.7 L821.4 718.4 L819.3 718 L817.2 717.9 L815.1 718 L813.1 717.9 L811 717.7 L808.9 717.4 L806.8 717.2 L804.8 716.7 L802.7 716.6 L800.6 716.5 L798.6 716.3 L796.5 716 L794.4 716 L792.3 715.9 L790.3 715.8 L788.2 715.9 L786.1 716 L784 715.6 L782 715.1 L779.9 714.9 L777.8 714.5 L775.7 714.4 L773.7 714.4 L771.6 714.5 L769.5 714.2 L767.5 714 L765.4 714 L763.3 713.8 L761.2 713.4 L759.2 713.1 L757.1 713.4 L755 713.7 L752.9 713.7 L750.9 713.4 L748.8 713.2 L746.7 713.1 L744.6 712.9 L742.6 712.8 L740.5 712.7 L738.4 712.7 L736.4 712.5 L734.3 712.5 L732.2 712.3 L730.1 712 L728.1 712 L726 712 L723.9 711.9 L721.8 711.6 L719.8 711.6 L717.7 711.4 L715.6 711.3 L713.5 711.3 L711.5 711.6 L709.4 711.7 L707.3 711.4 L705.2 711.2 L703.2 711 L701.1 711 L699 710.7 L697 710.2 L694.9 710.1 L692.8 710 L690.7 710.1 L688.7 709.9 L686.6 710.1 L684.5 710.3 L682.4 710.3 L680.4 710 L678.3 709.9 L676.2 710 L674.1 710 L672.1 709.7 L670 709.7 L667.9 709.8 L665.9 709.7 L663.8 709.2 L661.7 709 L659.6 709 L657.6 709.1 L655.5 709.1 L653.4 709.2 L651.3 709.2 L649.3 709.2 L647.2 709.1 L645.1 708.9 L643 708.7 L641 708.6 L638.9 708.8 L636.8 708.7 L634.8 709.1 L632.7 709.3 L630.6 709.3 L628.5 709.1 L626.5 708.9 L624.4 708.6 L622.3 708.5 L620.2 708.6 L618.2 708.7 L616.1 708.7 L614 708.7 L611.9 708.7 L609.9 708.5 L607.8 708.4 L605.7 708.1 L603.7 708.1 L601.6 708 L599.5 708.2 L597.4 708.2 L595.4 708.3 L593.3 708.1 L591.2 707.9 L589.1 707.8 L587.1 707.9 L585 708 L582.9 707.8 L580.8 707.7 L578.8 707.8 L576.7 707.9" fill="none" stroke="#c4741e" stroke-width="2" stroke-linejoin="round"/>
<path d="M864.9 723.6 L862.8 723.5 L860.8 723.4 L858.7 723.4 L856.6 723.3 L854.5 723.2 L852.5 723.1 L850.4 723 L848.3 722.9 L846.2 722.8 L844.2 722.7 L842.1 722.7 L840 722.6 L837.9 722.5 L835.9 722.4 L833.8 722.4 L831.7 722.4 L829.7 722.3 L827.6 722.1 L825.5 722 L823.4 722 L821.4 722 L819.3 722 L817.2 722.1 L815.1 722 L813.1 721.7 L811 721.3 L808.9 721.3 L806.8 721.3 L804.8 721.3 L802.7 721.1 L800.6 721.3 L798.6 721.2 L796.5 721.1 L794.4 720.9 L792.3 720.8 L790.3 720.6 L788.2 720.5 L786.1 720.4 L784 720.4 L782 720.5 L779.9 720.6 L777.8 720.5 L775.7 720.2 L773.7 720.2 L771.6 720.2 L769.5 720.3 L767.5 720.3 L765.4 720.2 L763.3 720.1 L761.2 720 L759.2 719.8 L757.1 719.9 L755 719.9 L752.9 719.9 L750.9 719.6 L748.8 719.5 L746.7 719.4 L744.6 719.5 L742.6 719.3 L740.5 719.4 L738.4 719.7 L736.4 719.6 L734.3 719.3 L732.2 719 L730.1 718.9 L728.1 719 L726 719 L723.9 718.8 L721.8 718.8 L719.8 718.4 L717.7 718.4 L715.6 718.3 L713.5 718.4 L711.5 718.2 L709.4 718.3 L707.3 718.4 L705.2 718.3 L703.2 718.5 L701.1 718.7 L699 718.7 L697 718.5 L694.9 718.5 L692.8 718.4 L690.7 718.2 L688.7 718.3 L686.6 718.2 L684.5 718.4 L682.4 718.5 L680.4 718.7 L678.3 718.4 L676.2 718.3 L674.1 718.1 L672.1 718.2 L670 718 L667.9 717.9 L665.9 717.8 L663.8 718.2 L661.7 718.4 L659.6 718.5 L657.6 718.2 L655.5 717.8 L653.4 717.8 L651.3 717.8 L649.3 717.7 L647.2 717.9 L645.1 718.1 L643 717.7 L641 717.5 L638.9 717.7 L636.8 717.7 L634.8 717.7 L632.7 717.6 L630.6 717.7 L628.5 717.5 L626.5 717.6 L624.4 717.7 L622.3 717.7 L620.2 717.8 L618.2 717.7 L616.1 717.7 L614 717.3 L611.9 717.4 L609.9 717.4 L607.8 717.3 L605.7 717.3 L603.7 717.4 L601.6 717.4 L599.5 717.4 L597.4 717.5 L595.4 717.4 L593.3 717 L591.2 717 L589.1 717.1 L587.1 717.1 L585 716.8 L582.9 716.7 L580.8 717 L578.8 717.3 L576.7 717.4" fill="none" stroke="#c4741e" stroke-width="2" stroke-linejoin="round"/>
<rect x="576.7" y="483" width="288.2" height="240.6" fill="none" stroke="#333" stroke-width="1"/>
<line x1="570.7" y1="505" x2="576.7" y2="505" stroke="#333" stroke-width="1"/>
<text x="565.7" y="509.3" font-size="12" fill="#3a3a3a" stroke="#3a3a3a" stroke-width="0.3" text-anchor="end" >1.00</text>
<line x1="570.7" y1="559.6" x2="576.7" y2="559.6" stroke="#333" stroke-width="1"/>
<text x="565.7" y="563.9" font-size="12" fill="#3a3a3a" stroke="#3a3a3a" stroke-width="0.3" text-anchor="end" >0.75</text>
<line x1="570.7" y1="614.3" x2="576.7" y2="614.3" stroke="#333" stroke-width="1"/>
<text x="565.7" y="618.6" font-size="12" fill="#3a3a3a" stroke="#3a3a3a" stroke-width="0.3" text-anchor="end" >0.50</text>
<line x1="570.7" y1="669" x2="576.7" y2="669" stroke="#333" stroke-width="1"/>
<text x="565.7" y="673.2" font-size="12" fill="#3a3a3a" stroke="#3a3a3a" stroke-width="0.3" text-anchor="end" >0.25</text>
<line x1="570.7" y1="723.6" x2="576.7" y2="723.6" stroke="#333" stroke-width="1"/>
<text x="565.7" y="727.9" font-size="12" fill="#3a3a3a" stroke="#3a3a3a" stroke-width="0.3" text-anchor="end" >0</text>
<line x1="576.7" y1="723.6" x2="576.7" y2="729.6" stroke="#333" stroke-width="1"/>
<text x="576.7" y="744.6" font-size="12" fill="#3a3a3a" stroke="#3a3a3a" stroke-width="0.3" text-anchor="middle" >−1.0</text>
<line x1="634.3" y1="723.6" x2="634.3" y2="729.6" stroke="#333" stroke-width="1"/>
<text x="634.3" y="744.6" font-size="12" fill="#3a3a3a" stroke="#3a3a3a" stroke-width="0.3" text-anchor="middle" >−0.8</text>
<line x1="692" y1="723.6" x2="692" y2="729.6" stroke="#333" stroke-width="1"/>
<text x="692" y="744.6" font-size="12" fill="#3a3a3a" stroke="#3a3a3a" stroke-width="0.3" text-anchor="middle" >−0.6</text>
<line x1="749.6" y1="723.6" x2="749.6" y2="729.6" stroke="#333" stroke-width="1"/>
<text x="749.6" y="744.6" font-size="12" fill="#3a3a3a" stroke="#3a3a3a" stroke-width="0.3" text-anchor="middle" >−0.4</text>
<line x1="807.3" y1="723.6" x2="807.3" y2="729.6" stroke="#333" stroke-width="1"/>
<text x="807.3" y="744.6" font-size="12" fill="#3a3a3a" stroke="#3a3a3a" stroke-width="0.3" text-anchor="middle" >−0.2</text>
<line x1="864.9" y1="723.6" x2="864.9" y2="729.6" stroke="#333" stroke-width="1"/>
<text x="864.9" y="744.6" font-size="12" fill="#3a3a3a" stroke="#3a3a3a" stroke-width="0.3" text-anchor="middle" >0</text>
<text x="721.7" y="765.7" font-size="14.5" fill="#3a3a3a" stroke="#3a3a3a" stroke-width="0.3" text-anchor="middle" letter-spacing="0.3"><tspan font-style="italic">V</tspan><tspan font-size="10" dy="3">ds</tspan><tspan dy="-3">&#8203;</tspan> (V)</text>
<text transform="translate(521.5,604) rotate(-90)" font-size="14.5" letter-spacing="0.2" fill="#3a3a3a" stroke="#3a3a3a" stroke-width="0.3" text-anchor="middle">|<tspan font-style="italic">I</tspan><tspan font-size="10" dy="3">ds</tspan><tspan dy="-3">&#8203;</tspan>/<tspan font-style="italic">W</tspan><tspan font-size="10" dy="3">ch</tspan><tspan dy="-3">&#8203;</tspan>| (mA µm<tspan font-size="9" dy="-5.5">−1</tspan><tspan dy="5.5">&#8203;</tspan>)</text>
<text x="687.6" y="498.8" font-size="14" fill="#3a3a3a" stroke="#3a3a3a" stroke-width="0.3" text-anchor="start" letter-spacing="0.3"><tspan font-style="italic">V</tspan><tspan font-size="13" dy="4.5">gs</tspan><tspan dy="-4.5">&#8203;</tspan> from −1 V to 0 V</text>
<text x="687.6" y="515.2" font-size="14" fill="#3a3a3a" stroke="#3a3a3a" stroke-width="0.3" text-anchor="start" letter-spacing="0.35">with step of 0.1 V</text>
</g>
<g id="chart-d">
<path d="M122 942.1l3.9 3.9l-3.9 3.9l-3.9 -3.9zM123.4 1038.4l3.9 3.9l-3.9 3.9l-3.9 -3.9zM123.6 983.6l3.9 3.9l-3.9 3.9l-3.9 -3.9zM124.2 966.7l3.9 3.9l-3.9 3.9l-3.9 -3.9zM127.2 1021.6l3.9 3.9l-3.9 3.9l-3.9 -3.9zM127.3 986l3.9 3.9l-3.9 3.9l-3.9 -3.9zM127.6 1032.6l3.9 3.9l-3.9 3.9l-3.9 -3.9zM128.9 1026.8l3.9 3.9l-3.9 3.9l-3.9 -3.9zM129.6 1027.7l3.9 3.9l-3.9 3.9l-3.9 -3.9zM130.1 999.9l3.9 3.9l-3.9 3.9l-3.9 -3.9zM131.3 1008.7l3.9 3.9l-3.9 3.9l-3.9 -3.9zM132.2 980.1l3.9 3.9l-3.9 3.9l-3.9 -3.9zM134.2 1034l3.9 3.9l-3.9 3.9l-3.9 -3.9zM134.8 1011.6l3.9 3.9l-3.9 3.9l-3.9 -3.9zM136.2 981.6l3.9 3.9l-3.9 3.9l-3.9 -3.9zM136.7 992.9l3.9 3.9l-3.9 3.9l-3.9 -3.9zM137.2 1045.9l3.9 3.9l-3.9 3.9l-3.9 -3.9zM138 990.4l3.9 3.9l-3.9 3.9l-3.9 -3.9zM138.5 1022.5l3.9 3.9l-3.9 3.9l-3.9 -3.9zM138.7 998.4l3.9 3.9l-3.9 3.9l-3.9 -3.9zM139.7 1000.9l3.9 3.9l-3.9 3.9l-3.9 -3.9zM143.4 973.9l3.9 3.9l-3.9 3.9l-3.9 -3.9zM146.9 1000l3.9 3.9l-3.9 3.9l-3.9 -3.9zM150.1 1050l3.9 3.9l-3.9 3.9l-3.9 -3.9zM151.9 1034l3.9 3.9l-3.9 3.9l-3.9 -3.9zM152.6 974.2l3.9 3.9l-3.9 3.9l-3.9 -3.9zM152.9 1001.4l3.9 3.9l-3.9 3.9l-3.9 -3.9zM153.1 962.1l3.9 3.9l-3.9 3.9l-3.9 -3.9zM153.4 985.8l3.9 3.9l-3.9 3.9l-3.9 -3.9zM153.9 1013.6l3.9 3.9l-3.9 3.9l-3.9 -3.9zM156.3 958.9l3.9 3.9l-3.9 3.9l-3.9 -3.9zM156.4 1011.8l3.9 3.9l-3.9 3.9l-3.9 -3.9zM156.9 1046l3.9 3.9l-3.9 3.9l-3.9 -3.9zM159.4 928.3l3.9 3.9l-3.9 3.9l-3.9 -3.9zM160.5 1038.8l3.9 3.9l-3.9 3.9l-3.9 -3.9zM160.7 967.4l3.9 3.9l-3.9 3.9l-3.9 -3.9zM161.3 958.4l3.9 3.9l-3.9 3.9l-3.9 -3.9zM161.5 980.5l3.9 3.9l-3.9 3.9l-3.9 -3.9zM161.6 1031.7l3.9 3.9l-3.9 3.9l-3.9 -3.9zM164.2 954.6l3.9 3.9l-3.9 3.9l-3.9 -3.9zM164.4 1023.2l3.9 3.9l-3.9 3.9l-3.9 -3.9zM167 1019.1l3.9 3.9l-3.9 3.9l-3.9 -3.9zM168.2 991l3.9 3.9l-3.9 3.9l-3.9 -3.9zM169.9 957.9l3.9 3.9l-3.9 3.9l-3.9 -3.9zM170.3 971.4l3.9 3.9l-3.9 3.9l-3.9 -3.9zM172 956.1l3.9 3.9l-3.9 3.9l-3.9 -3.9zM174.5 989.4l3.9 3.9l-3.9 3.9l-3.9 -3.9zM175.9 980.5l3.9 3.9l-3.9 3.9l-3.9 -3.9zM176 1007.5l3.9 3.9l-3.9 3.9l-3.9 -3.9zM176.5 984l3.9 3.9l-3.9 3.9l-3.9 -3.9zM177.1 957.9l3.9 3.9l-3.9 3.9l-3.9 -3.9zM178.6 981.2l3.9 3.9l-3.9 3.9l-3.9 -3.9zM184.9 950.9l3.9 3.9l-3.9 3.9l-3.9 -3.9zM185.7 979.1l3.9 3.9l-3.9 3.9l-3.9 -3.9zM186.3 978.6l3.9 3.9l-3.9 3.9l-3.9 -3.9zM186.7 960.2l3.9 3.9l-3.9 3.9l-3.9 -3.9zM186.8 966.7l3.9 3.9l-3.9 3.9l-3.9 -3.9zM186.8 944.6l3.9 3.9l-3.9 3.9l-3.9 -3.9zM187 955.9l3.9 3.9l-3.9 3.9l-3.9 -3.9zM188 910.5l3.9 3.9l-3.9 3.9l-3.9 -3.9zM189.4 962.9l3.9 3.9l-3.9 3.9l-3.9 -3.9zM189.6 962.9l3.9 3.9l-3.9 3.9l-3.9 -3.9zM192.5 980.2l3.9 3.9l-3.9 3.9l-3.9 -3.9zM194.4 946.2l3.9 3.9l-3.9 3.9l-3.9 -3.9zM194.4 927.6l3.9 3.9l-3.9 3.9l-3.9 -3.9zM195.6 964.6l3.9 3.9l-3.9 3.9l-3.9 -3.9zM196.4 943.6l3.9 3.9l-3.9 3.9l-3.9 -3.9zM198.1 917.9l3.9 3.9l-3.9 3.9l-3.9 -3.9zM199.7 937.6l3.9 3.9l-3.9 3.9l-3.9 -3.9zM202.6 942.2l3.9 3.9l-3.9 3.9l-3.9 -3.9zM204.8 895.3l3.9 3.9l-3.9 3.9l-3.9 -3.9zM205.2 919l3.9 3.9l-3.9 3.9l-3.9 -3.9zM205.8 909.3l3.9 3.9l-3.9 3.9l-3.9 -3.9zM206.7 885.5l3.9 3.9l-3.9 3.9l-3.9 -3.9zM206.9 885.8l3.9 3.9l-3.9 3.9l-3.9 -3.9zM207.9 925.3l3.9 3.9l-3.9 3.9l-3.9 -3.9zM208.7 928.4l3.9 3.9l-3.9 3.9l-3.9 -3.9zM208.9 905.2l3.9 3.9l-3.9 3.9l-3.9 -3.9zM209.4 915.8l3.9 3.9l-3.9 3.9l-3.9 -3.9zM210.8 962.3l3.9 3.9l-3.9 3.9l-3.9 -3.9zM211.4 872.1l3.9 3.9l-3.9 3.9l-3.9 -3.9zM211.8 906.6l3.9 3.9l-3.9 3.9l-3.9 -3.9zM219 875.4l3.9 3.9l-3.9 3.9l-3.9 -3.9zM219.4 928.2l3.9 3.9l-3.9 3.9l-3.9 -3.9zM219.4 859.3l3.9 3.9l-3.9 3.9l-3.9 -3.9zM220.2 910.9l3.9 3.9l-3.9 3.9l-3.9 -3.9zM220.7 896.8l3.9 3.9l-3.9 3.9l-3.9 -3.9zM221.2 932.4l3.9 3.9l-3.9 3.9l-3.9 -3.9zM222.1 896.8l3.9 3.9l-3.9 3.9l-3.9 -3.9zM222.3 898.4l3.9 3.9l-3.9 3.9l-3.9 -3.9zM222.4 897l3.9 3.9l-3.9 3.9l-3.9 -3.9zM224.9 882l3.9 3.9l-3.9 3.9l-3.9 -3.9zM225.7 887.7l3.9 3.9l-3.9 3.9l-3.9 -3.9zM227.2 871.5l3.9 3.9l-3.9 3.9l-3.9 -3.9zM227.9 895.1l3.9 3.9l-3.9 3.9l-3.9 -3.9zM228.2 903.7l3.9 3.9l-3.9 3.9l-3.9 -3.9zM228.3 887.4l3.9 3.9l-3.9 3.9l-3.9 -3.9zM229.7 876.3l3.9 3.9l-3.9 3.9l-3.9 -3.9zM229.8 866.1l3.9 3.9l-3.9 3.9l-3.9 -3.9zM230.2 873.1l3.9 3.9l-3.9 3.9l-3.9 -3.9zM230.7 915.6l3.9 3.9l-3.9 3.9l-3.9 -3.9zM230.8 880.1l3.9 3.9l-3.9 3.9l-3.9 -3.9zM231.9 862l3.9 3.9l-3.9 3.9l-3.9 -3.9zM232.9 884.9l3.9 3.9l-3.9 3.9l-3.9 -3.9zM233.7 894.3l3.9 3.9l-3.9 3.9l-3.9 -3.9zM234.1 880.6l3.9 3.9l-3.9 3.9l-3.9 -3.9zM236.1 893.7l3.9 3.9l-3.9 3.9l-3.9 -3.9zM237.3 874.6l3.9 3.9l-3.9 3.9l-3.9 -3.9zM239.4 885.1l3.9 3.9l-3.9 3.9l-3.9 -3.9zM239.7 861.8l3.9 3.9l-3.9 3.9l-3.9 -3.9zM239.9 876.5l3.9 3.9l-3.9 3.9l-3.9 -3.9zM244.4 895.6l3.9 3.9l-3.9 3.9l-3.9 -3.9zM244.7 873.5l3.9 3.9l-3.9 3.9l-3.9 -3.9zM244.8 867.9l3.9 3.9l-3.9 3.9l-3.9 -3.9zM245 892.8l3.9 3.9l-3.9 3.9l-3.9 -3.9zM245.2 890.3l3.9 3.9l-3.9 3.9l-3.9 -3.9zM245.3 868.3l3.9 3.9l-3.9 3.9l-3.9 -3.9zM247.1 892.1l3.9 3.9l-3.9 3.9l-3.9 -3.9zM247.7 917.2l3.9 3.9l-3.9 3.9l-3.9 -3.9zM248.5 910.9l3.9 3.9l-3.9 3.9l-3.9 -3.9zM249.2 885.1l3.9 3.9l-3.9 3.9l-3.9 -3.9zM250.9 868.2l3.9 3.9l-3.9 3.9l-3.9 -3.9zM251.2 882.2l3.9 3.9l-3.9 3.9l-3.9 -3.9zM256.6 873.2l3.9 3.9l-3.9 3.9l-3.9 -3.9zM257.1 899.4l3.9 3.9l-3.9 3.9l-3.9 -3.9zM260.7 905.3l3.9 3.9l-3.9 3.9l-3.9 -3.9zM261.3 868.8l3.9 3.9l-3.9 3.9l-3.9 -3.9zM262 875.8l3.9 3.9l-3.9 3.9l-3.9 -3.9zM263 885.2l3.9 3.9l-3.9 3.9l-3.9 -3.9zM263.1 863.6l3.9 3.9l-3.9 3.9l-3.9 -3.9zM263.8 901l3.9 3.9l-3.9 3.9l-3.9 -3.9zM264.8 893l3.9 3.9l-3.9 3.9l-3.9 -3.9zM265.3 869.5l3.9 3.9l-3.9 3.9l-3.9 -3.9zM271.1 863.9l3.9 3.9l-3.9 3.9l-3.9 -3.9zM274.8 900l3.9 3.9l-3.9 3.9l-3.9 -3.9zM276.3 881.8l3.9 3.9l-3.9 3.9l-3.9 -3.9zM276.5 910l3.9 3.9l-3.9 3.9l-3.9 -3.9zM276.8 899.1l3.9 3.9l-3.9 3.9l-3.9 -3.9zM276.9 905.4l3.9 3.9l-3.9 3.9l-3.9 -3.9zM278.3 924.4l3.9 3.9l-3.9 3.9l-3.9 -3.9zM279.3 903.6l3.9 3.9l-3.9 3.9l-3.9 -3.9zM280 896.9l3.9 3.9l-3.9 3.9l-3.9 -3.9zM280.1 909.7l3.9 3.9l-3.9 3.9l-3.9 -3.9zM280.7 909.7l3.9 3.9l-3.9 3.9l-3.9 -3.9zM281.7 894.2l3.9 3.9l-3.9 3.9l-3.9 -3.9zM282.5 926.3l3.9 3.9l-3.9 3.9l-3.9 -3.9zM285.7 934.1l3.9 3.9l-3.9 3.9l-3.9 -3.9zM285.8 924.8l3.9 3.9l-3.9 3.9l-3.9 -3.9zM288.8 936.6l3.9 3.9l-3.9 3.9l-3.9 -3.9zM289.4 910.3l3.9 3.9l-3.9 3.9l-3.9 -3.9zM290.6 924.5l3.9 3.9l-3.9 3.9l-3.9 -3.9zM291.1 938.3l3.9 3.9l-3.9 3.9l-3.9 -3.9zM291.1 935.7l3.9 3.9l-3.9 3.9l-3.9 -3.9zM292.1 938.1l3.9 3.9l-3.9 3.9l-3.9 -3.9zM293.2 942.6l3.9 3.9l-3.9 3.9l-3.9 -3.9zM295.3 937.4l3.9 3.9l-3.9 3.9l-3.9 -3.9zM296.2 936.8l3.9 3.9l-3.9 3.9l-3.9 -3.9zM296.4 941.5l3.9 3.9l-3.9 3.9l-3.9 -3.9zM297.1 954.9l3.9 3.9l-3.9 3.9l-3.9 -3.9zM298.4 961.1l3.9 3.9l-3.9 3.9l-3.9 -3.9zM298.8 944.7l3.9 3.9l-3.9 3.9l-3.9 -3.9zM300.8 956.9l3.9 3.9l-3.9 3.9l-3.9 -3.9zM302.7 977.6l3.9 3.9l-3.9 3.9l-3.9 -3.9zM303.4 953l3.9 3.9l-3.9 3.9l-3.9 -3.9zM304.2 959.3l3.9 3.9l-3.9 3.9l-3.9 -3.9zM305 971.2l3.9 3.9l-3.9 3.9l-3.9 -3.9zM305.4 972.6l3.9 3.9l-3.9 3.9l-3.9 -3.9zM305.9 969.7l3.9 3.9l-3.9 3.9l-3.9 -3.9zM309.3 987.9l3.9 3.9l-3.9 3.9l-3.9 -3.9zM309.3 994l3.9 3.9l-3.9 3.9l-3.9 -3.9zM309.4 979.4l3.9 3.9l-3.9 3.9l-3.9 -3.9zM310.2 997.2l3.9 3.9l-3.9 3.9l-3.9 -3.9zM311 983.4l3.9 3.9l-3.9 3.9l-3.9 -3.9zM312 1001.6l3.9 3.9l-3.9 3.9l-3.9 -3.9zM312 990.2l3.9 3.9l-3.9 3.9l-3.9 -3.9zM313.1 993.6l3.9 3.9l-3.9 3.9l-3.9 -3.9zM315.1 983l3.9 3.9l-3.9 3.9l-3.9 -3.9zM316.7 1010.2l3.9 3.9l-3.9 3.9l-3.9 -3.9zM316.8 1013.2l3.9 3.9l-3.9 3.9l-3.9 -3.9zM317.3 1008.3l3.9 3.9l-3.9 3.9l-3.9 -3.9zM319 1015.9l3.9 3.9l-3.9 3.9l-3.9 -3.9zM319.9 1013.6l3.9 3.9l-3.9 3.9l-3.9 -3.9zM320.8 1007.7l3.9 3.9l-3.9 3.9l-3.9 -3.9zM321.5 1006.5l3.9 3.9l-3.9 3.9l-3.9 -3.9zM323.5 1004l3.9 3.9l-3.9 3.9l-3.9 -3.9zM325.7 1025.2l3.9 3.9l-3.9 3.9l-3.9 -3.9zM327.2 1008.7l3.9 3.9l-3.9 3.9l-3.9 -3.9zM327.9 1025l3.9 3.9l-3.9 3.9l-3.9 -3.9zM328.2 1039.7l3.9 3.9l-3.9 3.9l-3.9 -3.9zM330.7 1028.3l3.9 3.9l-3.9 3.9l-3.9 -3.9zM335.2 1033.2l3.9 3.9l-3.9 3.9l-3.9 -3.9zM335.8 1048.2l3.9 3.9l-3.9 3.9l-3.9 -3.9zM335.8 1033.9l3.9 3.9l-3.9 3.9l-3.9 -3.9zM335.9 1035.7l3.9 3.9l-3.9 3.9l-3.9 -3.9zM336.2 1039.5l3.9 3.9l-3.9 3.9l-3.9 -3.9zM338.1 1033.1l3.9 3.9l-3.9 3.9l-3.9 -3.9zM339 1031.8l3.9 3.9l-3.9 3.9l-3.9 -3.9zM339.9 1041.2l3.9 3.9l-3.9 3.9l-3.9 -3.9zM341 1038.2l3.9 3.9l-3.9 3.9l-3.9 -3.9zM342.9 1044.5l3.9 3.9l-3.9 3.9l-3.9 -3.9zM343.2 1045.5l3.9 3.9l-3.9 3.9l-3.9 -3.9zM343.5 1041.1l3.9 3.9l-3.9 3.9l-3.9 -3.9zM344.3 1039.4l3.9 3.9l-3.9 3.9l-3.9 -3.9zM344.6 1045.2l3.9 3.9l-3.9 3.9l-3.9 -3.9zM345.5 1054.2l3.9 3.9l-3.9 3.9l-3.9 -3.9zM346.7 1041.1l3.9 3.9l-3.9 3.9l-3.9 -3.9zM349 1053.1l3.9 3.9l-3.9 3.9l-3.9 -3.9zM351.4 1046.8l3.9 3.9l-3.9 3.9l-3.9 -3.9zM352 1040l3.9 3.9l-3.9 3.9l-3.9 -3.9zM355.5 1050l3.9 3.9l-3.9 3.9l-3.9 -3.9z" fill="#1515d8"/>
<path d="M121.7 844.6 L123.7 845.5 L125.7 846.5 L127.6 847.5 L129.6 848.5 L131.6 849.6 L133.6 850.7 L135.6 851.8 L137.5 852.9 L139.5 854 L141.5 855.1 L143.5 856.3 L145.4 857.5 L147.4 858.7 L149.4 859.9 L151.4 861.1 L153.4 862.4 L155.3 863.6 L157.3 864.9 L159.3 866.2 L161.3 867.6 L163.3 868.9 L165.2 870.3 L167.2 871.7 L169.2 873.2 L171.2 874.7 L173.2 876.2 L175.1 877.8 L177.1 879.5 L179.1 881.1 L181.1 882.9 L183.1 884.7 L185 886.5 L187 888.4 L189 890.3 L191 892.3 L192.9 894.3 L194.9 896.4 L196.9 898.5 L198.9 900.6 L200.9 902.7 L202.8 904.9 L204.8 907.2 L206.8 909.5 L208.8 911.9 L210.8 914.3 L212.7 916.8 L214.7 919.3 L216.7 921.9 L218.7 924.5 L220.7 927.1 L222.6 929.8 L224.6 932.4 L226.6 935.1 L228.6 937.8 L230.5 940.6 L232.5 943.4 L234.5 946.2 L236.5 949.1 L238.5 952 L240.4 954.9 L242.4 957.9 L244.4 960.9 L246.4 963.9 L248.4 966.8 L250.3 969.8 L252.3 972.8 L254.3 975.7 L256.3 978.7 L258.3 981.6 L260.2 984.6 L262.2 987.7 L264.2 990.8 L266.2 993.8 L268.2 996.9 L270.1 999.9 L272.1 1002.9 L274.1 1005.8 L276.1 1008.7 L278 1011.4 L280 1014.1 L282 1016.6 L284 1019.1 L286 1021.6 L287.9 1024.2 L289.9 1026.6 L291.9 1029.1 L293.9 1031.5 L295.9 1033.8 L297.8 1036.1 L299.8 1038.2 L301.8 1040.2 L303.8 1042 L305.8 1043.7 L307.7 1045.1 L309.7 1046.4 L311.7 1047.6 L313.7 1048.7 L315.6 1049.7 L317.6 1050.7 L319.6 1051.6 L321.6 1052.5 L323.6 1053.3 L325.5 1054.1 L327.5 1054.9 L329.5 1055.5 L331.5 1056.2 L333.5 1056.8 L335.4 1057.3 L337.4 1057.9 L339.4 1058.4 L341.4 1058.9 L343.4 1059.4 L345.3 1059.8 L347.3 1060.2 L349.3 1060.6 L351.3 1061 L353.3 1061.3 L355.2 1061.5 L357.2 1061.8" fill="none" stroke="#c8201e" stroke-width="2" stroke-linejoin="round"/>
<path d="M121.7 999 L122.9 1000.7 L124.1 1001.2 L125.3 1002.7 L126.4 1004.3 L127.6 1005.7 L128.8 1007.7 L130 1009.7 L131.2 1012 L132.4 1014 L133.5 1013.6 L134.7 1012.5 L135.9 1012.3 L137.1 1012.5 L138.3 1012.8 L139.5 1012.8 L140.6 1013 L141.8 1013.6 L143 1013.5 L144.2 1012.1 L145.4 1009.4 L146.6 1007.1 L147.7 1004.7 L148.9 1002 L150.1 1000.6 L151.3 999.7 L152.5 998.7 L153.7 997.5 L154.8 995.3 L156 993.9 L157.2 992.7 L158.4 990.8 L159.6 989.7 L160.8 988.9 L161.9 987.9 L163.1 986.4 L164.3 985.8 L165.5 986.9 L166.7 987.1 L167.9 985.4 L169 983.9 L170.2 983.9 L171.4 983.5 L172.6 983.2 L173.8 983.6 L175 982.5 L176.1 980.6 L177.3 978.7 L178.5 977.7 L179.7 976.7 L180.9 975.2 L182.1 973.6 L183.2 971.4 L184.4 969.5 L185.6 967.8 L186.8 965.5 L188 962.8 L189.2 960.7 L190.3 958.6 L191.5 956.6 L192.7 954.7 L193.9 951.6 L195.1 948.6 L196.3 946.1 L197.4 943.8 L198.6 940.8 L199.8 936.5 L201 933.4 L202.2 932.1 L203.4 929.9 L204.5 926.9 L205.7 923.8 L206.9 920.6 L208.1 919 L209.3 918.3 L210.5 915.6 L211.6 912.3 L212.8 909.7 L214 907.7 L215.2 905.5 L216.4 902.3 L217.6 901.1 L218.7 901.7 L219.9 899.8 L221.1 897.1 L222.3 895.8 L223.5 895.3 L224.7 895 L225.8 893.4 L227 891.1 L228.2 889.9 L229.4 890.5 L230.6 890.9 L231.8 890.4 L232.9 889.7 L234.1 889.2 L235.3 889.3 L236.5 889.6 L237.7 889.6 L238.9 889.4 L240 888 L241.2 887.7 L242.4 888.4 L243.6 888.3 L244.8 887.5 L246 886 L247.1 885.2 L248.3 885.1 L249.5 884.7 L250.7 884.9 L251.9 885.3 L253.1 885 L254.2 884.8 L255.4 884.8 L256.6 885.1 L257.8 885.5 L259 885.3 L260.2 885.8 L261.3 888 L262.5 889.3 L263.7 888.7 L264.9 888.9 L266.1 891.4 L267.3 893.5 L268.4 893.9 L269.6 895.4 L270.8 898.4 L272 900.1 L273.2 901.9 L274.4 903.9 L275.6 905.6 L276.7 907.6 L277.9 908.4 L279.1 909.2 L280.3 911.9 L281.5 915.3 L282.7 918.1 L283.8 920.3 L285 921.3 L286.2 921.8 L287.4 924.5 L288.6 928.4 L289.8 931.5 L290.9 934 L292.1 936.8 L293.3 939.3 L294.5 941.6 L295.7 945.7 L296.9 949.7 L298 951.9 L299.2 954 L300.4 957.8 L301.6 962.3 L302.8 966 L304 969.3 L305.1 972.8 L306.3 976.9 L307.5 981.7 L308.7 985.4 L309.9 988.4 L311.1 991.1 L312.2 993.4 L313.4 996.9 L314.6 1001.1 L315.8 1004.1 L317 1006.7 L318.2 1009 L319.3 1011.6 L320.5 1015.7 L321.7 1018.5 L322.9 1019.4 L324.1 1021 L325.3 1022.9 L326.4 1024.8 L327.6 1026.7 L328.8 1028.7 L330 1031.1 L331.2 1033 L332.4 1035.1 L333.5 1036.5 L334.7 1036.7 L335.9 1038.4 L337.1 1041.3 L338.3 1042.3 L339.5 1041.7 L340.6 1042.3 L341.8 1044.2 L343 1046 L344.2 1046.2 L345.4 1045.3 L346.6 1046.1 L347.7 1047.5 L348.9 1048.3 L350.1 1049.2 L351.3 1050.5 L352.5 1051.7 L353.7 1052.2 L354.8 1052.6 L356 1053.4 L357.2 1054.8" fill="none" stroke="#17901c" stroke-width="5.2" stroke-linejoin="round" stroke-linecap="round"/>
<line x1="95.3" y1="813" x2="389.7" y2="813" stroke="#333"/>
<line x1="95.3" y1="1067.5" x2="389.7" y2="1067.5" stroke="#333"/>
<line x1="95.3" y1="813" x2="95.3" y2="1067.5" stroke="#b8322c"/>
<line x1="389.7" y1="813" x2="389.7" y2="1067.5" stroke="#23238a"/>
<line x1="89.3" y1="813" x2="95.3" y2="813" stroke="#b8322c"/>
<text x="81.3" y="817.3" font-size="12.3" fill="#b8322c" stroke="#b8322c" stroke-width="0.3" text-anchor="end" >2.0</text>
<line x1="389.7" y1="813" x2="395.7" y2="813" stroke="#23238a"/>
<text x="401.7" y="817.3" font-size="12.3" fill="#23238a" stroke="#23238a" stroke-width="0.3" text-anchor="start" >2.0</text>
<line x1="89.3" y1="876.6" x2="95.3" y2="876.6" stroke="#b8322c"/>
<text x="81.3" y="880.9" font-size="12.3" fill="#b8322c" stroke="#b8322c" stroke-width="0.3" text-anchor="end" >1.5</text>
<line x1="389.7" y1="876.6" x2="395.7" y2="876.6" stroke="#23238a"/>
<text x="401.7" y="880.9" font-size="12.3" fill="#23238a" stroke="#23238a" stroke-width="0.3" text-anchor="start" >1.5</text>
<line x1="89.3" y1="940.2" x2="95.3" y2="940.2" stroke="#b8322c"/>
<text x="81.3" y="944.5" font-size="12.3" fill="#b8322c" stroke="#b8322c" stroke-width="0.3" text-anchor="end" >1.0</text>
<line x1="389.7" y1="940.2" x2="395.7" y2="940.2" stroke="#23238a"/>
<text x="401.7" y="944.5" font-size="12.3" fill="#23238a" stroke="#23238a" stroke-width="0.3" text-anchor="start" >1.0</text>
<line x1="89.3" y1="1003.9" x2="95.3" y2="1003.9" stroke="#b8322c"/>
<text x="81.3" y="1008.2" font-size="12.3" fill="#b8322c" stroke="#b8322c" stroke-width="0.3" text-anchor="end" >0.5</text>
<line x1="389.7" y1="1003.9" x2="395.7" y2="1003.9" stroke="#23238a"/>
<text x="401.7" y="1008.2" font-size="12.3" fill="#23238a" stroke="#23238a" stroke-width="0.3" text-anchor="start" >0.5</text>
<line x1="89.3" y1="1067.5" x2="95.3" y2="1067.5" stroke="#b8322c"/>
<text x="81.3" y="1071.8" font-size="12.3" fill="#b8322c" stroke="#b8322c" stroke-width="0.3" text-anchor="end" >0</text>
<line x1="389.7" y1="1067.5" x2="395.7" y2="1067.5" stroke="#23238a"/>
<text x="401.7" y="1071.8" font-size="12.3" fill="#23238a" stroke="#23238a" stroke-width="0.3" text-anchor="start" >0</text>
<line x1="121.7" y1="1067.5" x2="121.7" y2="1073.5" stroke="#333"/>
<text x="121.7" y="1089.5" font-size="12.3" fill="#3a3a3a" stroke="#3a3a3a" stroke-width="0.3" text-anchor="middle" >−2.0</text>
<line x1="175.2" y1="1067.5" x2="175.2" y2="1073.5" stroke="#333"/>
<text x="175.2" y="1089.5" font-size="12.3" fill="#3a3a3a" stroke="#3a3a3a" stroke-width="0.3" text-anchor="middle" >−1.5</text>
<line x1="228.8" y1="1067.5" x2="228.8" y2="1073.5" stroke="#333"/>
<text x="228.8" y="1089.5" font-size="12.3" fill="#3a3a3a" stroke="#3a3a3a" stroke-width="0.3" text-anchor="middle" >−1.0</text>
<line x1="282.3" y1="1067.5" x2="282.3" y2="1073.5" stroke="#333"/>
<text x="282.3" y="1089.5" font-size="12.3" fill="#3a3a3a" stroke="#3a3a3a" stroke-width="0.3" text-anchor="middle" >−0.5</text>
<line x1="335.8" y1="1067.5" x2="335.8" y2="1073.5" stroke="#333"/>
<text x="335.8" y="1089.5" font-size="12.3" fill="#3a3a3a" stroke="#3a3a3a" stroke-width="0.3" text-anchor="middle" >0</text>
<line x1="389.3" y1="1067.5" x2="389.3" y2="1073.5" stroke="#333"/>
<text x="389.3" y="1089.5" font-size="12.3" fill="#3a3a3a" stroke="#3a3a3a" stroke-width="0.3" text-anchor="middle" >0.5</text>
<text x="243" y="1112.7" font-size="14.5" fill="#3a3a3a" stroke="#3a3a3a" stroke-width="0.3" text-anchor="middle" letter-spacing="0.3"><tspan font-style="italic">V</tspan><tspan font-size="10" dy="3">gs</tspan><tspan dy="-3">&#8203;</tspan> (V)</text>
<text transform="translate(49.4,940.2) rotate(-90)" font-size="14.5" letter-spacing="0.2" fill="#b8322c" stroke="#b8322c" stroke-width="0.3" text-anchor="middle">|<tspan font-style="italic">I</tspan><tspan font-size="10" dy="3">ds</tspan><tspan dy="-3">&#8203;</tspan>/<tspan font-style="italic">W</tspan><tspan font-size="10" dy="3">ch</tspan><tspan dy="-3">&#8203;</tspan>| (mA µm<tspan font-size="9" dy="-5.5">−1</tspan><tspan dy="5.5">&#8203;</tspan>)</text>
<text transform="translate(434.3,939) rotate(90)" font-size="14.5" letter-spacing="0.2" fill="#1515d8" stroke="#1515d8" stroke-width="0.3" text-anchor="middle"><tspan font-style="italic">g</tspan><tspan font-size="10" dy="3">m</tspan><tspan dy="-3">&#8203;</tspan>/<tspan font-style="italic">W</tspan><tspan font-size="10" dy="3">ch</tspan><tspan dy="-3">&#8203;</tspan> (mS µm<tspan font-size="9" dy="-5.5">−1</tspan><tspan dy="5.5">&#8203;</tspan>)</text>
</g>
<g id="chart-e">
<path d="M541.5 866.3L547.1 863L547.1 869.6ZM545.3 869.4L550.9 866.1L550.9 872.7ZM548.8 871.8L554.4 868.5L554.4 875.1ZM552 868.3L557.6 865L557.6 871.6ZM554.9 861L560.5 857.7L560.5 864.3ZM557.7 865.7L563.3 862.4L563.3 869ZM560.3 869.7L565.9 866.4L565.9 873ZM562.7 865.4L568.3 862.1L568.3 868.7ZM565 867.4L570.6 864.1L570.6 870.7ZM567.1 866.8L572.7 863.5L572.7 870.1ZM569.2 864.8L574.8 861.5L574.8 868.1ZM571.1 870.7L576.7 867.4L576.7 874ZM573 868.7L578.6 865.4L578.6 872ZM574.7 867.6L580.4 864.3L580.4 870.9ZM576.4 865.2L582.1 861.9L582.1 868.5ZM578.1 864.8L583.7 861.5L583.7 868.1ZM579.6 868.2L585.2 864.9L585.2 871.5ZM581.1 868.4L586.8 865.1L586.8 871.7ZM582.6 864.4L588.2 861.1L588.2 867.7ZM584 866.2L589.6 862.9L589.6 869.5ZM585.3 859L591 855.7L591 862.3ZM586.7 861.9L592.3 858.6L592.3 865.2ZM587.9 861.3L593.5 858L593.5 864.6ZM589.2 862.2L594.8 858.9L594.8 865.5ZM590.3 856.3L596 853L596 859.6ZM591.5 859.1L597.1 855.8L597.1 862.4ZM592.6 861.2L598.2 857.9L598.2 864.5ZM593.7 860.1L599.3 856.8L599.3 863.4ZM594.8 863.4L600.4 860.1L600.4 866.7ZM595.8 863.5L601.4 860.2L601.4 866.8ZM596.8 863.2L602.4 859.9L602.4 866.5ZM597.8 868.1L603.4 864.8L603.4 871.4ZM598.8 867.6L604.4 864.3L604.4 870.9ZM599.7 869L605.3 865.7L605.3 872.3ZM600.6 868.8L606.2 865.5L606.2 872.1ZM601.5 871.3L607.1 868L607.1 874.6ZM602.4 873.7L608 870.4L608 877ZM603.3 876.2L608.9 872.9L608.9 879.5ZM604.1 874.8L609.7 871.5L609.7 878.1ZM604.9 878.6L610.5 875.3L610.5 881.9ZM605.7 875L611.3 871.7L611.3 878.3ZM606.5 876.7L612.1 873.4L612.1 880ZM607.3 875.8L612.9 872.5L612.9 879.1ZM608.1 878.6L613.7 875.3L613.7 881.9ZM608.8 879.4L614.4 876.1L614.4 882.7ZM609.5 879.9L615.1 876.6L615.1 883.2ZM610.3 875.3L615.9 872L615.9 878.6ZM611 878.4L616.6 875.1L616.6 881.7ZM611.7 878.5L617.3 875.2L617.3 881.8ZM612.3 881.8L618 878.5L618 885.1ZM613 877L618.6 873.7L618.6 880.3ZM613.7 883.9L619.3 880.6L619.3 887.2ZM614.3 871.6L619.9 868.3L619.9 874.9ZM615 874.3L620.6 871L620.6 877.6ZM615.6 873L621.2 869.7L621.2 876.3ZM616.2 876.2L621.8 872.9L621.8 879.5ZM616.8 875.5L622.4 872.2L622.4 878.8ZM617.4 871.9L623 868.6L623 875.2ZM618 874.4L623.6 871.1L623.6 877.7ZM618.6 873.7L624.2 870.4L624.2 877ZM619.2 872.5L624.8 869.2L624.8 875.8ZM619.7 874.8L625.3 871.5L625.3 878.1ZM620.3 881.6L625.9 878.3L625.9 884.9ZM620.8 880.3L626.4 877L626.4 883.6ZM621.4 881.4L627 878.1L627 884.7ZM621.9 881.5L627.5 878.2L627.5 884.8ZM622.4 884.8L628.1 881.5L628.1 888.1ZM623 885.3L628.6 882L628.6 888.6ZM623.5 882.8L629.1 879.5L629.1 886.1ZM624 883L629.6 879.7L629.6 886.3ZM624.5 881.4L630.1 878.1L630.1 884.7ZM625 883.1L630.6 879.8L630.6 886.4ZM625.5 881.1L631.1 877.8L631.1 884.4ZM626 886.2L631.6 882.9L631.6 889.5ZM626.4 886.1L632.1 882.8L632.1 889.4ZM626.9 884.3L632.5 881L632.5 887.6ZM627.4 885.5L633 882.2L633 888.8ZM627.8 886.9L633.5 883.6L633.5 890.2ZM628.3 884.9L633.9 881.6L633.9 888.2ZM628.7 884.9L634.4 881.6L634.4 888.2ZM629.2 885L634.8 881.7L634.8 888.3ZM629.6 887.9L635.2 884.6L635.2 891.2ZM630.1 887.7L635.7 884.4L635.7 891ZM630.5 887.8L636.1 884.5L636.1 891.1ZM630.9 888.4L636.5 885.1L636.5 891.7ZM631.4 887.4L637 884.1L637 890.7ZM631.8 889.9L637.4 886.6L637.4 893.2ZM632.2 889.1L637.8 885.8L637.8 892.4ZM632.6 893L638.2 889.7L638.2 896.3ZM633 889.2L638.6 885.9L638.6 892.5ZM633.4 888.3L639 885L639 891.6ZM634.2 891.2L639.8 887.9L639.8 894.5ZM635 890.3L640.6 887L640.6 893.6ZM635.7 894.7L641.3 891.4L641.3 898ZM636.5 893.3L642.1 890L642.1 896.6ZM637.2 895.5L642.8 892.2L642.8 898.8ZM637.9 893.4L643.5 890.1L643.5 896.7ZM638.6 893.6L644.2 890.3L644.2 896.9ZM639.3 896.7L644.9 893.4L644.9 900ZM640 896.4L645.6 893.1L645.6 899.7ZM640.7 896.5L646.3 893.2L646.3 899.8ZM641.3 892.6L646.9 889.3L646.9 895.9ZM642 896.5L647.6 893.2L647.6 899.8ZM642.6 896.7L648.2 893.4L648.2 900ZM643.3 896.7L648.9 893.4L648.9 900ZM643.9 897.2L649.5 893.9L649.5 900.5ZM644.5 898.3L650.1 895L650.1 901.6ZM645.1 900.2L650.7 896.9L650.7 903.5ZM645.7 899.7L651.3 896.4L651.3 903ZM646.3 896.8L651.9 893.5L651.9 900.1ZM646.8 899L652.4 895.7L652.4 902.3ZM647.4 900.3L653 897L653 903.6ZM648 901.9L653.6 898.6L653.6 905.2ZM648.5 900.4L654.1 897.1L654.1 903.7ZM649 900.6L654.7 897.3L654.7 903.9ZM649.6 901.8L655.2 898.5L655.2 905.1ZM650.1 899.9L655.7 896.6L655.7 903.2ZM650.6 902.1L656.2 898.8L656.2 905.4ZM651.1 901.7L656.8 898.4L656.8 905ZM651.7 900.4L657.3 897.1L657.3 903.7ZM652.2 901.5L657.8 898.2L657.8 904.8ZM652.7 900.3L658.3 897L658.3 903.6ZM653.1 902.4L658.8 899.1L658.8 905.7ZM653.6 902.8L659.2 899.5L659.2 906.1ZM654.1 901.7L659.7 898.4L659.7 905ZM654.6 902.2L660.2 898.9L660.2 905.5ZM655 901L660.7 897.7L660.7 904.3ZM655.5 902.3L661.1 899L661.1 905.6ZM656 903.2L661.6 899.9L661.6 906.5ZM656.4 902.8L662 899.5L662 906.1ZM656.9 902.8L662.5 899.5L662.5 906.1ZM657.3 905.7L662.9 902.4L662.9 909ZM657.7 905L663.3 901.7L663.3 908.3ZM658.2 906.1L663.8 902.8L663.8 909.4ZM658.6 904.9L664.2 901.6L664.2 908.2ZM659 908.2L664.6 904.9L664.6 911.5ZM659.4 907.1L665 903.8L665 910.4ZM659.8 911.4L665.5 908.1L665.5 914.7ZM660.3 910.6L665.9 907.3L665.9 913.9ZM660.7 909.9L666.3 906.6L666.3 913.2ZM661.1 912.5L666.7 909.2L666.7 915.8ZM661.5 911.1L667.1 907.8L667.1 914.4ZM661.9 916.2L667.5 912.9L667.5 919.5ZM662.2 913.9L667.9 910.6L667.9 917.2ZM662.6 914.3L668.2 911L668.2 917.6ZM663 915.2L668.6 911.9L668.6 918.5ZM663.4 917.7L669 914.4L669 921ZM663.8 915.2L669.4 911.9L669.4 918.5ZM664.1 919.9L669.7 916.6L669.7 923.2ZM664.5 915.8L670.1 912.5L670.1 919.1ZM664.9 917.2L670.5 913.9L670.5 920.5ZM665.2 916.7L670.8 913.4L670.8 920ZM665.6 918.9L671.2 915.6L671.2 922.2ZM665.9 920.6L671.6 917.3L671.6 923.9ZM666.3 920.2L671.9 916.9L671.9 923.5ZM666.6 920.6L672.3 917.3L672.3 923.9ZM667 919.5L672.6 916.2L672.6 922.8ZM667.3 921.2L672.9 917.9L672.9 924.5ZM667.7 920.6L673.3 917.3L673.3 923.9ZM668 920.9L673.6 917.6L673.6 924.2ZM668.3 920L674 916.7L674 923.3ZM668.7 925.2L674.3 921.9L674.3 928.5ZM669 923.3L674.6 920L674.6 926.6ZM669.3 922.2L674.9 918.9L674.9 925.5ZM669.7 922.5L675.3 919.2L675.3 925.8ZM670 924.6L675.6 921.3L675.6 927.9ZM670.3 924.6L675.9 921.3L675.9 927.9ZM670.6 924.7L676.2 921.4L676.2 928ZM670.9 924.7L676.5 921.4L676.5 928ZM671.2 926L676.8 922.7L676.8 929.3ZM671.5 926.5L677.1 923.2L677.1 929.8ZM671.8 927.5L677.5 924.2L677.5 930.8ZM672.1 926.8L677.8 923.5L677.8 930.1ZM672.4 924.6L678.1 921.3L678.1 927.9ZM672.7 928.2L678.4 924.9L678.4 931.5ZM673 925.9L678.7 922.6L678.7 929.2ZM673.3 924.8L678.9 921.5L678.9 928.1ZM673.6 927.6L679.2 924.3L679.2 930.9ZM673.9 924.8L679.5 921.5L679.5 928.1ZM674.2 928.6L679.8 925.3L679.8 931.9ZM674.5 926.4L680.1 923.1L680.1 929.7ZM674.8 929.1L680.4 925.8L680.4 932.4ZM675.1 931L680.7 927.7L680.7 934.3ZM675.3 929.2L681 925.9L681 932.5ZM675.6 927.3L681.2 924L681.2 930.6ZM675.9 931.1L681.5 927.8L681.5 934.4ZM676.2 929.8L681.8 926.5L681.8 933.1ZM676.4 932.2L682.1 928.9L682.1 935.5ZM676.7 932.3L682.3 929L682.3 935.6ZM677 930.7L682.6 927.4L682.6 934ZM677.2 931.9L682.9 928.6L682.9 935.2ZM677.5 931.2L683.1 927.9L683.1 934.5ZM677.8 930.4L683.4 927.1L683.4 933.7ZM678 934.2L683.6 930.9L683.6 937.5ZM678.3 933.7L683.9 930.4L683.9 937ZM678.6 933L684.2 929.7L684.2 936.3ZM678.8 930.1L684.4 926.8L684.4 933.4ZM679.1 934L684.7 930.7L684.7 937.3ZM679.3 934.5L684.9 931.2L684.9 937.8ZM679.6 933.5L685.2 930.2L685.2 936.8ZM679.8 931.4L685.4 928.1L685.4 934.7ZM680.1 935.4L685.7 932.1L685.7 938.7ZM680.3 935.3L685.9 932L685.9 938.6ZM680.6 935L686.2 931.7L686.2 938.3ZM680.8 934.3L686.4 931L686.4 937.6ZM681.1 932.5L686.7 929.2L686.7 935.8ZM681.3 937.6L686.9 934.3L686.9 940.9ZM681.5 938.4L687.1 935.1L687.1 941.7ZM681.8 936.1L687.4 932.8L687.4 939.4ZM682 935.8L687.6 932.5L687.6 939.1ZM682.2 939.9L687.9 936.6L687.9 943.2ZM682.5 937.8L688.1 934.5L688.1 941.1ZM682.7 935.9L688.3 932.6L688.3 939.2ZM682.9 938.2L688.6 934.9L688.6 941.5ZM683.2 937L688.8 933.7L688.8 940.3ZM683.4 937.6L689 934.3L689 940.9ZM683.6 937.2L689.2 933.9L689.2 940.5ZM683.9 937.7L689.5 934.4L689.5 941ZM684.1 938.1L689.7 934.8L689.7 941.4ZM684.3 937L689.9 933.7L689.9 940.3ZM684.5 939.7L690.1 936.4L690.1 943ZM684.7 939L690.4 935.7L690.4 942.3ZM685 937.8L690.6 934.5L690.6 941.1ZM685.2 940.3L690.8 937L690.8 943.6ZM685.4 940.3L691 937L691 943.6ZM685.6 941L691.2 937.7L691.2 944.3ZM685.8 941.5L691.4 938.2L691.4 944.8ZM686 937.5L691.7 934.2L691.7 940.8ZM686.3 939.9L691.9 936.6L691.9 943.2ZM686.5 938.1L692.1 934.8L692.1 941.4ZM686.7 939.9L692.3 936.6L692.3 943.2ZM686.9 941L692.5 937.7L692.5 944.3ZM687.1 941.7L692.7 938.4L692.7 945ZM687.3 941.1L692.9 937.8L692.9 944.4ZM687.5 941.8L693.1 938.5L693.1 945.1ZM687.7 940.6L693.3 937.3L693.3 943.9ZM687.9 943.3L693.5 940L693.5 946.6ZM688.1 942L693.7 938.7L693.7 945.3ZM688.3 941.8L693.9 938.5L693.9 945.1ZM688.5 942.9L694.1 939.6L694.1 946.2ZM688.7 943.1L694.3 939.8L694.3 946.4ZM688.9 942.2L694.5 938.9L694.5 945.5ZM689.1 942.4L694.7 939.1L694.7 945.7ZM689.3 943.5L694.9 940.2L694.9 946.8ZM689.5 943.5L695.1 940.2L695.1 946.8ZM689.7 944.5L695.3 941.2L695.3 947.8ZM689.9 943.1L695.5 939.8L695.5 946.4ZM690.1 944.2L695.7 940.9L695.7 947.5ZM690.3 946.4L695.9 943.1L695.9 949.7ZM690.5 944.8L696.1 941.5L696.1 948.1ZM690.7 943.7L696.3 940.4L696.3 947ZM690.9 944.3L696.5 941L696.5 947.6ZM691.1 946.1L696.7 942.8L696.7 949.4ZM691.2 944L696.9 940.7L696.9 947.3ZM691.4 944.4L697 941.1L697 947.7ZM691.6 944.5L697.2 941.2L697.2 947.8ZM691.8 943.4L697.4 940.1L697.4 946.7ZM692 946.2L697.6 942.9L697.6 949.5ZM692.2 945L697.8 941.7L697.8 948.3ZM692.4 946.4L698 943.1L698 949.7ZM692.5 944.8L698.1 941.5L698.1 948.1ZM692.7 944.7L698.3 941.4L698.3 948ZM692.9 945.8L698.5 942.5L698.5 949.1ZM693.1 945.6L698.7 942.3L698.7 948.9ZM693.3 948L698.9 944.7L698.9 951.3ZM693.4 946.1L699 942.8L699 949.4ZM693.6 948.8L699.2 945.5L699.2 952.1ZM693.8 944.2L699.4 940.9L699.4 947.5ZM694 945.8L699.6 942.5L699.6 949.1ZM694.1 949.7L699.7 946.4L699.7 953ZM694.3 951.5L699.9 948.2L699.9 954.8ZM694.5 946.1L700.1 942.8L700.1 949.4ZM694.7 949.2L700.3 945.9L700.3 952.5ZM694.8 947.4L700.4 944.1L700.4 950.7ZM695 950.1L700.6 946.8L700.6 953.4ZM695.2 948.4L700.8 945.1L700.8 951.7ZM695.3 949.5L700.9 946.2L700.9 952.8ZM695.5 947.9L701.1 944.6L701.1 951.2ZM695.7 949.3L701.3 946L701.3 952.6ZM695.8 946.9L701.4 943.6L701.4 950.2ZM696 950.2L701.6 946.9L701.6 953.5ZM696.2 947.5L701.8 944.2L701.8 950.8ZM696.3 949.4L701.9 946.1L701.9 952.7ZM696.5 948.8L702.1 945.5L702.1 952.1ZM696.7 951.9L702.3 948.6L702.3 955.2ZM696.8 952.2L702.4 948.9L702.4 955.5ZM697 948.4L702.6 945.1L702.6 951.7ZM697.2 951.8L702.8 948.5L702.8 955.1ZM697.3 950.6L702.9 947.3L702.9 953.9ZM697.5 950.7L703.1 947.4L703.1 954ZM697.6 951.7L703.2 948.4L703.2 955ZM697.8 950.2L703.4 946.9L703.4 953.5ZM698 952.6L703.6 949.3L703.6 955.9ZM698.1 952.4L703.7 949.1L703.7 955.7ZM698.3 949.6L703.9 946.3L703.9 952.9ZM698.4 952.1L704 948.8L704 955.4ZM698.6 950.1L704.2 946.8L704.2 953.4ZM698.7 950.3L704.3 947L704.3 953.6ZM698.9 949.2L704.5 945.9L704.5 952.5ZM699 950.8L704.7 947.5L704.7 954.1ZM699.2 954.1L704.8 950.8L704.8 957.4ZM699.4 952.6L705 949.3L705 955.9ZM699.5 952.4L705.1 949.1L705.1 955.7ZM699.7 950.2L705.3 946.9L705.3 953.5ZM699.8 951.5L705.4 948.2L705.4 954.8ZM700 952.8L705.6 949.5L705.6 956.1ZM700.1 951.6L705.7 948.3L705.7 954.9ZM700.3 952.8L705.9 949.5L705.9 956.1ZM700.4 951.7L706 948.4L706 955ZM700.6 952.3L706.2 949L706.2 955.6ZM700.7 951.1L706.3 947.8L706.3 954.4ZM700.9 952.3L706.5 949L706.5 955.6ZM701 951.5L706.6 948.2L706.6 954.8ZM701.1 953L706.8 949.7L706.8 956.3ZM701.3 952.1L706.9 948.8L706.9 955.4ZM701.4 953.4L707 950.1L707 956.7ZM701.6 952.4L707.2 949.1L707.2 955.7ZM701.7 953.1L707.3 949.8L707.3 956.4ZM701.9 953.6L707.5 950.3L707.5 956.9ZM702 954.2L707.6 950.9L707.6 957.5ZM702.2 954.1L707.8 950.8L707.8 957.4ZM702.3 953.1L707.9 949.8L707.9 956.4ZM702.4 957.1L708.1 953.8L708.1 960.4ZM702.6 952.2L708.2 948.9L708.2 955.5ZM702.7 957.4L708.3 954.1L708.3 960.7ZM702.9 954.4L708.5 951.1L708.5 957.7ZM703 954.7L708.6 951.4L708.6 958ZM703.1 953.3L708.8 950L708.8 956.6ZM703.3 954.1L708.9 950.8L708.9 957.4ZM703.4 954.6L709 951.3L709 957.9ZM703.6 954.5L709.2 951.2L709.2 957.8ZM703.7 953.4L709.3 950.1L709.3 956.7ZM703.8 951.5L709.4 948.2L709.4 954.8ZM704 954.4L709.6 951.1L709.6 957.7ZM704.1 957.9L709.7 954.6L709.7 961.2ZM704.2 955.6L709.9 952.3L709.9 958.9ZM704.4 954.6L710 951.3L710 957.9ZM704.5 950.6L710.1 947.3L710.1 953.9ZM704.6 956.4L710.3 953.1L710.3 959.7ZM704.8 955.9L710.4 952.6L710.4 959.2ZM704.9 954.7L710.5 951.4L710.5 958ZM705 955.1L710.7 951.8L710.7 958.4ZM705.2 957.5L710.8 954.2L710.8 960.8ZM705.3 954.4L710.9 951.1L710.9 957.7ZM705.4 957.7L711.1 954.4L711.1 961ZM705.6 956.3L711.2 953L711.2 959.6ZM705.7 954.1L711.3 950.8L711.3 957.4ZM705.8 957.9L711.4 954.6L711.4 961.2ZM706 956.6L711.6 953.3L711.6 959.9ZM706.1 953.9L711.7 950.6L711.7 957.2ZM706.2 956.7L711.8 953.4L711.8 960ZM706.3 957.9L712 954.6L712 961.2ZM706.5 957.3L712.1 954L712.1 960.6ZM706.6 955.4L712.2 952.1L712.2 958.7ZM706.7 958.8L712.3 955.5L712.3 962.1ZM706.9 957.6L712.5 954.3L712.5 960.9ZM707 958.8L712.6 955.5L712.6 962.1ZM707.1 958.5L712.7 955.2L712.7 961.8ZM707.2 955.1L712.8 951.8L712.8 958.4ZM707.4 957.1L713 953.8L713 960.4ZM707.5 957.7L713.1 954.4L713.1 961ZM707.6 956.6L713.2 953.3L713.2 959.9ZM707.7 958.2L713.3 954.9L713.3 961.5ZM707.9 959L713.5 955.7L713.5 962.3ZM708 955.8L713.6 952.5L713.6 959.1ZM708.1 956.2L713.7 952.9L713.7 959.5Z" fill="none" stroke="#d8282c" stroke-width="1"/>
<path d="M541.5 831.2L547.1 827.9L547.1 834.5ZM545.3 836.3L550.9 833L550.9 839.6ZM548.8 840L554.4 836.7L554.4 843.3ZM552 844.5L557.6 841.2L557.6 847.8ZM554.9 846.1L560.5 842.8L560.5 849.4ZM557.7 849.1L563.3 845.8L563.3 852.4ZM560.3 851.9L565.9 848.6L565.9 855.2ZM562.7 853.9L568.3 850.6L568.3 857.2ZM565 856.1L570.6 852.8L570.6 859.4ZM567.1 859.2L572.7 855.9L572.7 862.5ZM569.2 861.2L574.8 857.9L574.8 864.5ZM571.1 862.9L576.7 859.6L576.7 866.2ZM573 864.2L578.6 860.9L578.6 867.5ZM574.7 866L580.4 862.7L580.4 869.3ZM576.4 868.8L582.1 865.5L582.1 872.1ZM578.1 870.3L583.7 867L583.7 873.6ZM579.6 870.9L585.2 867.6L585.2 874.2ZM581.1 871.9L586.8 868.6L586.8 875.2ZM582.6 874.3L588.2 871L588.2 877.6ZM584 876.1L589.6 872.8L589.6 879.4ZM585.3 876.4L591 873.1L591 879.7ZM586.7 878.5L592.3 875.2L592.3 881.8ZM587.9 879.2L593.5 875.9L593.5 882.5ZM589.2 880L594.8 876.7L594.8 883.3ZM590.3 881.7L596 878.4L596 885ZM591.5 883.2L597.1 879.9L597.1 886.5ZM592.6 883.9L598.2 880.6L598.2 887.2ZM593.7 885.8L599.3 882.5L599.3 889.1ZM594.8 886.6L600.4 883.3L600.4 889.9ZM595.8 887.9L601.4 884.6L601.4 891.2ZM596.8 888.7L602.4 885.4L602.4 892ZM597.8 889.9L603.4 886.6L603.4 893.2ZM598.8 890.7L604.4 887.4L604.4 894ZM599.7 891.7L605.3 888.4L605.3 895ZM600.6 892.4L606.2 889.1L606.2 895.7ZM601.5 893.3L607.1 890L607.1 896.6ZM602.4 894L608 890.7L608 897.3ZM603.3 894.3L608.9 891L608.9 897.6ZM604.1 896.8L609.7 893.5L609.7 900.1ZM604.9 896L610.5 892.7L610.5 899.3ZM605.7 897.7L611.3 894.4L611.3 901ZM606.5 899L612.1 895.7L612.1 902.3ZM607.3 899.2L612.9 895.9L612.9 902.5ZM608.1 899.8L613.7 896.5L613.7 903.1ZM608.8 900L614.4 896.7L614.4 903.3ZM609.5 901.9L615.1 898.6L615.1 905.2ZM610.3 901.9L615.9 898.6L615.9 905.2ZM611 902.7L616.6 899.4L616.6 906ZM611.7 904.4L617.3 901.1L617.3 907.7ZM612.3 904.8L618 901.5L618 908.1ZM613 904.5L618.6 901.2L618.6 907.8ZM613.7 905L619.3 901.7L619.3 908.3ZM614.3 905.5L619.9 902.2L619.9 908.8ZM615 906.4L620.6 903.1L620.6 909.7ZM615.6 907.1L621.2 903.8L621.2 910.4ZM616.2 907.9L621.8 904.6L621.8 911.2ZM616.8 907.8L622.4 904.5L622.4 911.1ZM617.4 909.6L623 906.3L623 912.9ZM618 909.8L623.6 906.5L623.6 913.1ZM618.6 910L624.2 906.7L624.2 913.3ZM619.2 911.7L624.8 908.4L624.8 915ZM619.7 910.6L625.3 907.3L625.3 913.9ZM620.3 912.3L625.9 909L625.9 915.6ZM620.8 912.5L626.4 909.2L626.4 915.8ZM621.4 911.7L627 908.4L627 915ZM621.9 913.9L627.5 910.6L627.5 917.2ZM622.4 914.3L628.1 911L628.1 917.6ZM623 913.6L628.6 910.3L628.6 916.9ZM623.5 915.6L629.1 912.3L629.1 918.9ZM624 915.7L629.6 912.4L629.6 919ZM624.5 915.6L630.1 912.3L630.1 918.9ZM625 916.2L630.6 912.9L630.6 919.5ZM625.5 916.5L631.1 913.2L631.1 919.8ZM626 917.1L631.6 913.8L631.6 920.4ZM626.4 917L632.1 913.7L632.1 920.3ZM626.9 917.7L632.5 914.4L632.5 921ZM627.4 918.3L633 915L633 921.6ZM627.8 919.5L633.5 916.2L633.5 922.8ZM628.3 919.9L633.9 916.6L633.9 923.2ZM628.7 921L634.4 917.7L634.4 924.3ZM629.2 920L634.8 916.7L634.8 923.3ZM629.6 921.8L635.2 918.5L635.2 925.1ZM630.1 920.7L635.7 917.4L635.7 924ZM630.5 920.5L636.1 917.2L636.1 923.8ZM630.9 922.6L636.5 919.3L636.5 925.9ZM631.4 922.8L637 919.5L637 926.1ZM631.8 923L637.4 919.7L637.4 926.3ZM632.2 922.7L637.8 919.4L637.8 926ZM632.6 924L638.2 920.7L638.2 927.3ZM633 924L638.6 920.7L638.6 927.3ZM633.4 924.5L639 921.2L639 927.8ZM634.2 925.1L639.8 921.8L639.8 928.4ZM635 924.9L640.6 921.6L640.6 928.2ZM635.7 926.9L641.3 923.6L641.3 930.2ZM636.5 927L642.1 923.7L642.1 930.3ZM637.2 927.6L642.8 924.3L642.8 930.9ZM637.9 927.9L643.5 924.6L643.5 931.2ZM638.6 929.7L644.2 926.4L644.2 933ZM639.3 929L644.9 925.7L644.9 932.3ZM640 930L645.6 926.7L645.6 933.3ZM640.7 930.4L646.3 927.1L646.3 933.7ZM641.3 931.5L646.9 928.2L646.9 934.8ZM642 933L647.6 929.7L647.6 936.3ZM642.6 933L648.2 929.7L648.2 936.3ZM643.3 932.8L648.9 929.5L648.9 936.1ZM643.9 933.8L649.5 930.5L649.5 937.1ZM644.5 934.4L650.1 931.1L650.1 937.7ZM645.1 933.9L650.7 930.6L650.7 937.2ZM645.7 934.2L651.3 930.9L651.3 937.5ZM646.3 936L651.9 932.7L651.9 939.3ZM646.8 935.4L652.4 932.1L652.4 938.7ZM647.4 938.1L653 934.8L653 941.4ZM648 938.6L653.6 935.3L653.6 941.9ZM648.5 937.5L654.1 934.2L654.1 940.8ZM649 938.6L654.7 935.3L654.7 941.9ZM649.6 938.6L655.2 935.3L655.2 941.9ZM650.1 939.1L655.7 935.8L655.7 942.4ZM650.6 939.9L656.2 936.6L656.2 943.2ZM651.1 940L656.8 936.7L656.8 943.3ZM651.7 940.7L657.3 937.4L657.3 944ZM652.2 942.1L657.8 938.8L657.8 945.4ZM652.7 941.6L658.3 938.3L658.3 944.9ZM653.1 942L658.8 938.7L658.8 945.3ZM653.6 941.5L659.2 938.2L659.2 944.8ZM654.1 943.6L659.7 940.3L659.7 946.9ZM654.6 943.4L660.2 940.1L660.2 946.7ZM655 944L660.7 940.7L660.7 947.3ZM655.5 944.3L661.1 941L661.1 947.6ZM656 943.7L661.6 940.4L661.6 947ZM656.4 944.8L662 941.5L662 948.1ZM656.9 945.6L662.5 942.3L662.5 948.9ZM657.3 945.7L662.9 942.4L662.9 949ZM657.7 945.7L663.3 942.4L663.3 949ZM658.2 947.1L663.8 943.8L663.8 950.4ZM658.6 947L664.2 943.7L664.2 950.3ZM659 946.4L664.6 943.1L664.6 949.7ZM659.4 947.1L665 943.8L665 950.4ZM659.8 948L665.5 944.7L665.5 951.3ZM660.3 948.6L665.9 945.3L665.9 951.9ZM660.7 948.7L666.3 945.4L666.3 952ZM661.1 949.8L666.7 946.5L666.7 953.1ZM661.5 948.8L667.1 945.5L667.1 952.1ZM661.9 949.4L667.5 946.1L667.5 952.7ZM662.2 949.9L667.9 946.6L667.9 953.2ZM662.6 951L668.2 947.7L668.2 954.3ZM663 951L668.6 947.7L668.6 954.3ZM663.4 950.6L669 947.3L669 953.9ZM663.8 951.1L669.4 947.8L669.4 954.4ZM664.1 951.8L669.7 948.5L669.7 955.1ZM664.5 951.5L670.1 948.2L670.1 954.8ZM664.9 951.6L670.5 948.3L670.5 954.9ZM665.2 952.8L670.8 949.5L670.8 956.1ZM665.6 953L671.2 949.7L671.2 956.3ZM665.9 953.5L671.6 950.2L671.6 956.8ZM666.3 953.9L671.9 950.6L671.9 957.2ZM666.6 953.1L672.3 949.8L672.3 956.4ZM667 953.6L672.6 950.3L672.6 956.9ZM667.3 953.9L672.9 950.6L672.9 957.2ZM667.7 955.1L673.3 951.8L673.3 958.4ZM668 955.3L673.6 952L673.6 958.6ZM668.3 955L674 951.7L674 958.3ZM668.7 955.4L674.3 952.1L674.3 958.7ZM669 955.4L674.6 952.1L674.6 958.7ZM669.3 956.1L674.9 952.8L674.9 959.4ZM669.7 955.6L675.3 952.3L675.3 958.9ZM670 955.2L675.6 951.9L675.6 958.5ZM670.3 955.6L675.9 952.3L675.9 958.9ZM670.6 955.8L676.2 952.5L676.2 959.1ZM670.9 956.9L676.5 953.6L676.5 960.2ZM671.2 956.7L676.8 953.4L676.8 960ZM671.5 957.6L677.1 954.3L677.1 960.9ZM671.8 957.1L677.5 953.8L677.5 960.4ZM672.1 958.1L677.8 954.8L677.8 961.4ZM672.4 958.4L678.1 955.1L678.1 961.7ZM672.7 958.7L678.4 955.4L678.4 962ZM673 958.2L678.7 954.9L678.7 961.5ZM673.3 958.6L678.9 955.3L678.9 961.9ZM673.6 958.9L679.2 955.6L679.2 962.2ZM673.9 959.9L679.5 956.6L679.5 963.2ZM674.2 959.4L679.8 956.1L679.8 962.7ZM674.5 960.5L680.1 957.2L680.1 963.8ZM674.8 959L680.4 955.7L680.4 962.3ZM675.1 960.1L680.7 956.8L680.7 963.4ZM675.3 960.2L681 956.9L681 963.5ZM675.6 960.5L681.2 957.2L681.2 963.8ZM675.9 961.6L681.5 958.3L681.5 964.9ZM676.2 961.6L681.8 958.3L681.8 964.9ZM676.4 961.1L682.1 957.8L682.1 964.4ZM676.7 960.4L682.3 957.1L682.3 963.7ZM677 962.1L682.6 958.8L682.6 965.4ZM677.2 962L682.9 958.7L682.9 965.3ZM677.5 961.9L683.1 958.6L683.1 965.2ZM677.8 963L683.4 959.7L683.4 966.3ZM678 963.2L683.6 959.9L683.6 966.5ZM678.3 962.6L683.9 959.3L683.9 965.9ZM678.6 962.6L684.2 959.3L684.2 965.9ZM678.8 963L684.4 959.7L684.4 966.3ZM679.1 962.1L684.7 958.8L684.7 965.4ZM679.3 963.2L684.9 959.9L684.9 966.5ZM679.6 963.1L685.2 959.8L685.2 966.4ZM679.8 962.6L685.4 959.3L685.4 965.9ZM680.1 962.7L685.7 959.4L685.7 966ZM680.3 964.7L685.9 961.4L685.9 968ZM680.6 964.2L686.2 960.9L686.2 967.5ZM680.8 963.5L686.4 960.2L686.4 966.8ZM681.1 965.1L686.7 961.8L686.7 968.4ZM681.3 965L686.9 961.7L686.9 968.3ZM681.5 965.4L687.1 962.1L687.1 968.7ZM681.8 965.6L687.4 962.3L687.4 968.9ZM682 965.6L687.6 962.3L687.6 968.9ZM682.2 965L687.9 961.7L687.9 968.3ZM682.5 964.6L688.1 961.3L688.1 967.9ZM682.7 964.6L688.3 961.3L688.3 967.9ZM682.9 965.6L688.6 962.3L688.6 968.9ZM683.2 966.9L688.8 963.6L688.8 970.2ZM683.4 966L689 962.7L689 969.3ZM683.6 966.3L689.2 963L689.2 969.6ZM683.9 966L689.5 962.7L689.5 969.3ZM684.1 966.5L689.7 963.2L689.7 969.8ZM684.3 967.5L689.9 964.2L689.9 970.8ZM684.5 966.4L690.1 963.1L690.1 969.7ZM684.7 968L690.4 964.7L690.4 971.3ZM685 967.4L690.6 964.1L690.6 970.7ZM685.2 966.9L690.8 963.6L690.8 970.2ZM685.4 967.1L691 963.8L691 970.4ZM685.6 966.5L691.2 963.2L691.2 969.8ZM685.8 968.9L691.4 965.6L691.4 972.2ZM686 967.5L691.7 964.2L691.7 970.8ZM686.3 967.4L691.9 964.1L691.9 970.7ZM686.5 968.2L692.1 964.9L692.1 971.5ZM686.7 967.8L692.3 964.5L692.3 971.1ZM686.9 968.9L692.5 965.6L692.5 972.2ZM687.1 968L692.7 964.7L692.7 971.3ZM687.3 968.2L692.9 964.9L692.9 971.5ZM687.5 969.2L693.1 965.9L693.1 972.5ZM687.7 969.2L693.3 965.9L693.3 972.5ZM687.9 969L693.5 965.7L693.5 972.3ZM688.1 969.4L693.7 966.1L693.7 972.7ZM688.3 968.6L693.9 965.3L693.9 971.9ZM688.5 969.2L694.1 965.9L694.1 972.5ZM688.7 968.7L694.3 965.4L694.3 972ZM688.9 968.9L694.5 965.6L694.5 972.2ZM689.1 969.7L694.7 966.4L694.7 973ZM689.3 969.9L694.9 966.6L694.9 973.2ZM689.5 970.5L695.1 967.2L695.1 973.8ZM689.7 970.5L695.3 967.2L695.3 973.8ZM689.9 970.7L695.5 967.4L695.5 974ZM690.1 970.1L695.7 966.8L695.7 973.4ZM690.3 970.9L695.9 967.6L695.9 974.2ZM690.5 970.5L696.1 967.2L696.1 973.8ZM690.7 970.6L696.3 967.3L696.3 973.9ZM690.9 971.1L696.5 967.8L696.5 974.4ZM691.1 971L696.7 967.7L696.7 974.3ZM691.2 970.2L696.9 966.9L696.9 973.5ZM691.4 970.3L697 967L697 973.6ZM691.6 971.7L697.2 968.4L697.2 975ZM691.8 971.5L697.4 968.2L697.4 974.8ZM692 971.7L697.6 968.4L697.6 975ZM692.2 971.8L697.8 968.5L697.8 975.1ZM692.4 970.9L698 967.6L698 974.2ZM692.5 971.5L698.1 968.2L698.1 974.8ZM692.7 971.3L698.3 968L698.3 974.6ZM692.9 971.1L698.5 967.8L698.5 974.4ZM693.1 972.4L698.7 969.1L698.7 975.7ZM693.3 972.4L698.9 969.1L698.9 975.7ZM693.4 972.4L699 969.1L699 975.7ZM693.6 972L699.2 968.7L699.2 975.3ZM693.8 972.7L699.4 969.4L699.4 976ZM694 972.4L699.6 969.1L699.6 975.7ZM694.1 972.2L699.7 968.9L699.7 975.5ZM694.3 972.3L699.9 969L699.9 975.6ZM694.5 972.8L700.1 969.5L700.1 976.1ZM694.7 973.6L700.3 970.3L700.3 976.9ZM694.8 974.1L700.4 970.8L700.4 977.4ZM695 972.7L700.6 969.4L700.6 976ZM695.2 973.2L700.8 969.9L700.8 976.5ZM695.3 974.1L700.9 970.8L700.9 977.4ZM695.5 974L701.1 970.7L701.1 977.3ZM695.7 974L701.3 970.7L701.3 977.3ZM695.8 974.8L701.4 971.5L701.4 978.1ZM696 973.8L701.6 970.5L701.6 977.1ZM696.2 974.5L701.8 971.2L701.8 977.8ZM696.3 974.4L701.9 971.1L701.9 977.7ZM696.5 973.9L702.1 970.6L702.1 977.2ZM696.7 974.4L702.3 971.1L702.3 977.7ZM696.8 974.2L702.4 970.9L702.4 977.5ZM697 974.3L702.6 971L702.6 977.6ZM697.2 974.7L702.8 971.4L702.8 978ZM697.3 974.7L702.9 971.4L702.9 978ZM697.5 973.8L703.1 970.5L703.1 977.1ZM697.6 975.1L703.2 971.8L703.2 978.4ZM697.8 974.1L703.4 970.8L703.4 977.4ZM698 975.7L703.6 972.4L703.6 979ZM698.1 974.8L703.7 971.5L703.7 978.1ZM698.3 975.2L703.9 971.9L703.9 978.5ZM698.4 975.8L704 972.5L704 979.1ZM698.6 977L704.2 973.7L704.2 980.3ZM698.7 974.7L704.3 971.4L704.3 978ZM698.9 976.3L704.5 973L704.5 979.6ZM699 976.3L704.7 973L704.7 979.6ZM699.2 975.8L704.8 972.5L704.8 979.1ZM699.4 975.9L705 972.6L705 979.2ZM699.5 975.9L705.1 972.6L705.1 979.2ZM699.7 976.3L705.3 973L705.3 979.6ZM699.8 977.1L705.4 973.8L705.4 980.4ZM700 975.8L705.6 972.5L705.6 979.1ZM700.1 976.9L705.7 973.6L705.7 980.2ZM700.3 976.4L705.9 973.1L705.9 979.7ZM700.4 976.3L706 973L706 979.6ZM700.6 976L706.2 972.7L706.2 979.3ZM700.7 976.9L706.3 973.6L706.3 980.2ZM700.9 977L706.5 973.7L706.5 980.3ZM701 977L706.6 973.7L706.6 980.3ZM701.1 978L706.8 974.7L706.8 981.3ZM701.3 977.5L706.9 974.2L706.9 980.8ZM701.4 977.7L707 974.4L707 981ZM701.6 977.9L707.2 974.6L707.2 981.2ZM701.7 977.2L707.3 973.9L707.3 980.5ZM701.9 977.6L707.5 974.3L707.5 980.9ZM702 976.6L707.6 973.3L707.6 979.9ZM702.2 976.7L707.8 973.4L707.8 980ZM702.3 978.7L707.9 975.4L707.9 982ZM702.4 977.7L708.1 974.4L708.1 981ZM702.6 978.4L708.2 975.1L708.2 981.7ZM702.7 977.6L708.3 974.3L708.3 980.9ZM702.9 977.9L708.5 974.6L708.5 981.2ZM703 977.5L708.6 974.2L708.6 980.8ZM703.1 978L708.8 974.7L708.8 981.3ZM703.3 977.8L708.9 974.5L708.9 981.1ZM703.4 978.4L709 975.1L709 981.7ZM703.6 979.8L709.2 976.5L709.2 983.1ZM703.7 979.1L709.3 975.8L709.3 982.4ZM703.8 979L709.4 975.7L709.4 982.3ZM704 978.9L709.6 975.6L709.6 982.2ZM704.1 979.2L709.7 975.9L709.7 982.5ZM704.2 977.8L709.9 974.5L709.9 981.1ZM704.4 978.9L710 975.6L710 982.2ZM704.5 978.2L710.1 974.9L710.1 981.5ZM704.6 979.1L710.3 975.8L710.3 982.4ZM704.8 978.1L710.4 974.8L710.4 981.4ZM704.9 979.8L710.5 976.5L710.5 983.1ZM705 978.8L710.7 975.5L710.7 982.1ZM705.2 980L710.8 976.7L710.8 983.3ZM705.3 979.1L710.9 975.8L710.9 982.4ZM705.4 978.5L711.1 975.2L711.1 981.8ZM705.6 980.4L711.2 977.1L711.2 983.7ZM705.7 980L711.3 976.7L711.3 983.3ZM705.8 979.5L711.4 976.2L711.4 982.8ZM706 979.8L711.6 976.5L711.6 983.1ZM706.1 980.5L711.7 977.2L711.7 983.8ZM706.2 979.2L711.8 975.9L711.8 982.5ZM706.3 979.8L712 976.5L712 983.1ZM706.5 979.2L712.1 975.9L712.1 982.5ZM706.6 979.8L712.2 976.5L712.2 983.1ZM706.7 980.7L712.3 977.4L712.3 984ZM706.9 980.4L712.5 977.1L712.5 983.7ZM707 979.4L712.6 976.1L712.6 982.7ZM707.1 981.1L712.7 977.8L712.7 984.4ZM707.2 980.6L712.8 977.3L712.8 983.9ZM707.4 980.1L713 976.8L713 983.4ZM707.5 979.9L713.1 976.6L713.1 983.2ZM707.6 980.1L713.2 976.8L713.2 983.4ZM707.7 981.4L713.3 978.1L713.3 984.7ZM707.9 979.5L713.5 976.2L713.5 982.8ZM708 980.8L713.6 977.5L713.6 984.1ZM708.1 980.8L713.7 977.5L713.7 984.1Z" fill="none" stroke="#2a2ad8" stroke-width="1"/>
<line x1="715.5" y1="961.6" x2="821.4" y2="1067.3" stroke="#cc2a2a" stroke-width="2" stroke-dasharray="8.5 6"/>
<line x1="714.4" y1="984.1" x2="798.4" y2="1069.2" stroke="#2222cc" stroke-width="2" stroke-dasharray="8.5 6"/>
<ellipse cx="766.9" cy="1020.7" rx="18.5" ry="6.7" fill="none" stroke="#8c8cd2" stroke-width="1" stroke-dasharray="4 2.5"/>
<path d="M743 1013 q3.5 2 0.5 4.5 q-3 3 2.5 6" fill="none" stroke="#8c8cd2" stroke-width="1"/>
<line x1="801.7" y1="983.2" x2="818.4" y2="1049.7" stroke="#cc2222" stroke-width="2"/><path d="M820.4 1057.5L814.3 1049.7L818.8 1051L822.1 1047.8Z" fill="#cc2222"/>
<line x1="739" y1="1041.7" x2="771.3" y2="1057.7" stroke="#1a1acc" stroke-width="2"/><path d="M778.5 1061.3L768.7 1060.9L772.5 1058.3L772.2 1053.7Z" fill="#1a1acc"/>
<rect x="544.8" y="810.3" width="319.7" height="257" fill="none" stroke="#333" stroke-width="1"/>
<line x1="538.8" y1="880.3" x2="544.8" y2="880.3" stroke="#333"/>
<text x="531.8" y="884.8" font-size="12.5" fill="#3a3a3a" stroke="#3a3a3a" stroke-width="0.3" text-anchor="end" >40</text>
<line x1="538.8" y1="973.8" x2="544.8" y2="973.8" stroke="#333"/>
<text x="531.8" y="978.3" font-size="12.5" fill="#3a3a3a" stroke="#3a3a3a" stroke-width="0.3" text-anchor="end" >20</text>
<line x1="538.8" y1="1067.3" x2="544.8" y2="1067.3" stroke="#333"/>
<text x="531.8" y="1071.8" font-size="12.5" fill="#3a3a3a" stroke="#3a3a3a" stroke-width="0.3" text-anchor="end" >0</text>
<line x1="544.8" y1="1067.3" x2="544.8" y2="1073.3" stroke="#333"/>
<text x="544.8" y="1090.8" font-size="12.5" fill="#3a3a3a" stroke="#3a3a3a" stroke-width="0.3" text-anchor="middle" >1</text>
<line x1="636.7" y1="1067.3" x2="636.7" y2="1073.3" stroke="#333"/>
<text x="636.7" y="1090.8" font-size="12.5" fill="#3a3a3a" stroke="#3a3a3a" stroke-width="0.3" text-anchor="middle" >10</text>
<line x1="728.6" y1="1067.3" x2="728.6" y2="1073.3" stroke="#333"/>
<text x="728.6" y="1090.8" font-size="12.5" fill="#3a3a3a" stroke="#3a3a3a" stroke-width="0.3" text-anchor="middle" >100</text>
<line x1="820.5" y1="1067.3" x2="820.5" y2="1073.3" stroke="#333"/>
<text x="820.5" y="1090.8" font-size="12.5" fill="#3a3a3a" stroke="#3a3a3a" stroke-width="0.3" text-anchor="middle" >1,000</text>
<text x="705.2" y="1113.6" font-size="14.8" fill="#3a3a3a" stroke="#3a3a3a" stroke-width="0.3" text-anchor="middle" >Frequency (GHz)</text>
<text transform="translate(505,937.4) rotate(-90)" font-size="14.6" fill="#3a3a3a" stroke="#3a3a3a" stroke-width="0.3" text-anchor="middle">Gain (dB)</text>
<path d="M758.2 847.6L764.7 843.8L764.7 851.4Z" fill="none" stroke="#d8282c" stroke-width="0.9"/><text x="773.5" y="852.5" font-size="14" fill="#3a3a3a" stroke="#3a3a3a" stroke-width="0.3" text-anchor="start" ><tspan font-style="italic">U</tspan></text>
<path d="M758.2 873.3L764.7 869.5L764.7 877.1Z" fill="none" stroke="#2a2ad8" stroke-width="0.9"/><text x="773.5" y="878.5" font-size="14" fill="#3a3a3a" stroke="#3a3a3a" stroke-width="0.3" text-anchor="start" ><tspan font-style="italic">H</tspan><tspan font-size="9.5" dy="3.5">21</tspan><tspan dy="-3.5">&#8203;</tspan></text>
<text x="748" y="970" font-size="14.1" fill="#c9302c" stroke="#c9302c" stroke-width="0.3" text-anchor="start" ><tspan font-style="italic">f</tspan><tspan font-size="10" dy="3.5">max</tspan><tspan dy="-3.5">&#8203;</tspan> = 1,024 GHz</text>
<text x="649" y="1046.5" font-size="13.8" fill="#2626c8" stroke="#2626c8" stroke-width="0.3" text-anchor="start" ><tspan font-style="italic">f</tspan><tspan font-size="10" dy="3.5">T</tspan><tspan dy="-3.5">&#8203;</tspan> = 551 GHz</text>
<text x="734.5" y="1020.5" font-size="12.2" fill="#8a8acf" stroke="#8a8acf" stroke-width="0.3" text-anchor="end" >−20 dB dec<tspan font-size="8" dy="-4.5">−1</tspan><tspan dy="4.5">&#8203;</tspan></text>
</g>
<text x="25" y="24.8" font-family='"Liberation Sans", sans-serif' font-weight="bold" font-size="21" fill="#000" stroke="#000" stroke-width="0.9">a</text>
<text x="25" y="485.2" font-family='"Liberation Sans", sans-serif' font-weight="bold" font-size="21" fill="#000" stroke="#000" stroke-width="0.9">b</text>
<text x="498.5" y="485" font-family='"Liberation Sans", sans-serif' font-weight="bold" font-size="21" fill="#000" stroke="#000" stroke-width="0.9">c</text>
<text x="25" y="818" font-family='"Liberation Sans", sans-serif' font-weight="bold" font-size="21" fill="#000" stroke="#000" stroke-width="0.9">d</text>
<text x="493.6" y="818" font-family='"Liberation Sans", sans-serif' font-weight="bold" font-size="21" fill="#000" stroke="#000" stroke-width="0.9">e</text>
</svg>

</body></html>
